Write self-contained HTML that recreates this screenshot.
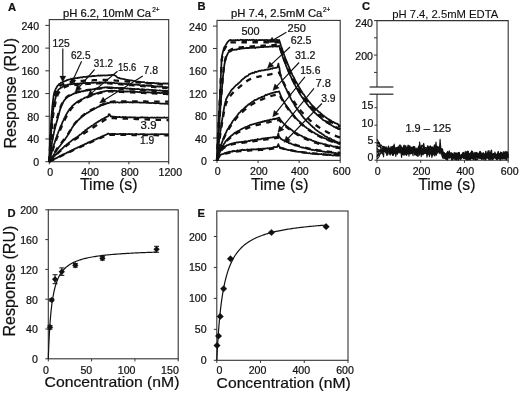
<!DOCTYPE html>
<html><head><meta charset="utf-8"><style>
html,body{margin:0;padding:0;background:#fff;}
body{width:520px;height:395px;overflow:hidden;}
svg{display:block;will-change:transform;}
</style></head><body>
<svg width="520" height="395" viewBox="0 0 520 395">
<rect width="520" height="395" fill="#fff"/>
<g font-family='"Liberation Sans", sans-serif' fill="#111" stroke="#111" stroke-width="0.22">
<text x="7.9" y="10.6" font-size="11.2" font-weight="bold">A</text>
<text x="197.4" y="10.4" font-size="11.2" font-weight="bold">B</text>
<text x="362" y="10.4" font-size="11.2" font-weight="bold">C</text>
<text x="7.4" y="216.6" font-size="11.2" font-weight="bold">D</text>
<text x="197.4" y="216.8" font-size="11.2" font-weight="bold">E</text>
<text x="63" y="16.9" font-size="10.4" textLength="88" lengthAdjust="spacingAndGlyphs">pH 6.2, 10mM Ca</text>
<text x="152.2" y="12" font-size="7.0" textLength="7.4" lengthAdjust="spacingAndGlyphs">2+</text>
<text x="230.9" y="16.9" font-size="10.4" textLength="91.4" lengthAdjust="spacingAndGlyphs">pH 7.4, 2.5mM Ca</text>
<text x="323" y="12" font-size="7.0" textLength="7.2" lengthAdjust="spacingAndGlyphs">2+</text>
<text x="392.2" y="17.5" font-size="10.6" textLength="106.1" lengthAdjust="spacingAndGlyphs" stroke-width="0.1">pH 7.4, 2.5mM EDTA</text>
<text transform="translate(15.9,148.6) rotate(-90)" font-size="16.2" textLength="110.7" lengthAdjust="spacingAndGlyphs">Response (RU)</text>
<text transform="translate(14.9,336.6) rotate(-90)" font-size="16.2" textLength="111" lengthAdjust="spacingAndGlyphs">Response (RU)</text>
<text x="80" y="190.4" font-size="16.4" textLength="57.6" lengthAdjust="spacingAndGlyphs">Time (s)</text>
<text x="251" y="190.2" font-size="16.4" textLength="57.4" lengthAdjust="spacingAndGlyphs">Time (s)</text>
<text x="418.2" y="189.9" font-size="16.4" textLength="57.2" lengthAdjust="spacingAndGlyphs">Time (s)</text>
<text x="44.6" y="387" font-size="14.8" textLength="134.8" lengthAdjust="spacingAndGlyphs">Concentration (nM)</text>
<text x="216.6" y="388.4" font-size="14.8" textLength="134.2" lengthAdjust="spacingAndGlyphs">Concentration (nM)</text>
<rect x="49.3" y="19.6" width="119.4" height="142.1" fill="none" stroke="#333" stroke-width="1.1"/>
<line x1="45.3" y1="161.7" x2="49.3" y2="161.7" stroke="#333" stroke-width="1"/>
<text x="39.1" y="166.2" font-size="10.6" text-anchor="end">0</text>
<line x1="45.3" y1="138.98" x2="49.3" y2="138.98" stroke="#333" stroke-width="1"/>
<text x="39.1" y="143.48" font-size="10.6" text-anchor="end">40</text>
<line x1="45.3" y1="116.27" x2="49.3" y2="116.27" stroke="#333" stroke-width="1"/>
<text x="39.1" y="120.77" font-size="10.6" text-anchor="end">80</text>
<line x1="45.3" y1="93.55" x2="49.3" y2="93.55" stroke="#333" stroke-width="1"/>
<text x="39.1" y="98.05" font-size="10.6" text-anchor="end">120</text>
<line x1="45.3" y1="70.83" x2="49.3" y2="70.83" stroke="#333" stroke-width="1"/>
<text x="39.1" y="75.33" font-size="10.6" text-anchor="end">160</text>
<line x1="45.3" y1="48.12" x2="49.3" y2="48.12" stroke="#333" stroke-width="1"/>
<text x="39.1" y="52.62" font-size="10.6" text-anchor="end">200</text>
<line x1="45.3" y1="25.4" x2="49.3" y2="25.4" stroke="#333" stroke-width="1"/>
<text x="39.1" y="29.9" font-size="10.6" text-anchor="end">240</text>
<line x1="49.3" y1="161.7" x2="49.3" y2="164.3" stroke="#333" stroke-width="1"/>
<text x="50.3" y="175.9" font-size="10.6" text-anchor="middle">0</text>
<line x1="89.1" y1="161.7" x2="89.1" y2="164.3" stroke="#333" stroke-width="1"/>
<text x="90.1" y="175.9" font-size="10.6" text-anchor="middle">400</text>
<line x1="128.9" y1="161.7" x2="128.9" y2="164.3" stroke="#333" stroke-width="1"/>
<text x="129.9" y="175.9" font-size="10.6" text-anchor="middle">800</text>
<line x1="168.7" y1="161.7" x2="168.7" y2="164.3" stroke="#333" stroke-width="1"/>
<text x="170.3" y="175.9" font-size="10.6" text-anchor="middle">1200</text>
<rect x="217" y="20.4" width="123.2" height="140" fill="none" stroke="#333" stroke-width="1.1"/>
<line x1="213" y1="160.4" x2="217" y2="160.4" stroke="#333" stroke-width="1"/>
<text x="206.8" y="164.9" font-size="10.6" text-anchor="end">0</text>
<line x1="213" y1="138.02" x2="217" y2="138.02" stroke="#333" stroke-width="1"/>
<text x="206.8" y="142.52" font-size="10.6" text-anchor="end">40</text>
<line x1="213" y1="115.63" x2="217" y2="115.63" stroke="#333" stroke-width="1"/>
<text x="206.8" y="120.13" font-size="10.6" text-anchor="end">80</text>
<line x1="213" y1="93.25" x2="217" y2="93.25" stroke="#333" stroke-width="1"/>
<text x="206.8" y="97.75" font-size="10.6" text-anchor="end">120</text>
<line x1="213" y1="70.87" x2="217" y2="70.87" stroke="#333" stroke-width="1"/>
<text x="206.8" y="75.37" font-size="10.6" text-anchor="end">160</text>
<line x1="213" y1="48.48" x2="217" y2="48.48" stroke="#333" stroke-width="1"/>
<text x="206.8" y="52.98" font-size="10.6" text-anchor="end">200</text>
<line x1="213" y1="26.1" x2="217" y2="26.1" stroke="#333" stroke-width="1"/>
<text x="206.8" y="30.6" font-size="10.6" text-anchor="end">240</text>
<line x1="217" y1="160.4" x2="217" y2="163" stroke="#333" stroke-width="1"/>
<text x="217.8" y="174.6" font-size="10.6" text-anchor="middle">0</text>
<line x1="258.07" y1="160.4" x2="258.07" y2="163" stroke="#333" stroke-width="1"/>
<text x="258.87" y="174.6" font-size="10.6" text-anchor="middle">200</text>
<line x1="299.13" y1="160.4" x2="299.13" y2="163" stroke="#333" stroke-width="1"/>
<text x="299.93" y="174.6" font-size="10.6" text-anchor="middle">400</text>
<line x1="340.2" y1="160.4" x2="340.2" y2="163" stroke="#333" stroke-width="1"/>
<text x="341.7" y="174.6" font-size="10.6" text-anchor="middle">600</text>
<polyline points="377,87 377,20.6 508.2,20.6 508.2,160.2 377,160.2 377,94.2" fill="none" stroke="#333" stroke-width="1.1"/>
<line x1="369.6" y1="87" x2="393.4" y2="87" stroke="#222" stroke-width="1.2"/>
<line x1="369.6" y1="94.2" x2="393.4" y2="94.2" stroke="#222" stroke-width="1.2"/>
<line x1="374" y1="20.6" x2="377" y2="20.6" stroke="#333" stroke-width="1"/>
<text x="373" y="27.4" font-size="10.6" text-anchor="end">240</text>
<line x1="374" y1="37.8" x2="377" y2="37.8" stroke="#333" stroke-width="1"/>
<line x1="374" y1="55.1" x2="377" y2="55.1" stroke="#333" stroke-width="1"/>
<text x="373" y="60.1" font-size="10.6" text-anchor="end">200</text>
<line x1="374" y1="72.4" x2="377" y2="72.4" stroke="#333" stroke-width="1"/>
<line x1="374.5" y1="160.2" x2="377" y2="160.2" stroke="#333" stroke-width="1"/>
<text x="373.4" y="160.8" font-size="10.6" text-anchor="end">0</text>
<line x1="374.5" y1="142.7" x2="377" y2="142.7" stroke="#333" stroke-width="1"/>
<text x="373.4" y="144.2" font-size="10.6" text-anchor="end">5</text>
<line x1="374.5" y1="125.2" x2="377" y2="125.2" stroke="#333" stroke-width="1"/>
<text x="373.4" y="126.7" font-size="10.6" text-anchor="end">10</text>
<line x1="374.5" y1="107.7" x2="377" y2="107.7" stroke="#333" stroke-width="1"/>
<text x="373.4" y="109.2" font-size="10.6" text-anchor="end">15</text>
<line x1="377" y1="160.2" x2="377" y2="162.8" stroke="#333" stroke-width="1"/>
<text x="377.8" y="174.6" font-size="10.6" text-anchor="middle">0</text>
<line x1="420.73" y1="160.2" x2="420.73" y2="162.8" stroke="#333" stroke-width="1"/>
<text x="421.53" y="174.6" font-size="10.6" text-anchor="middle">200</text>
<line x1="464.47" y1="160.2" x2="464.47" y2="162.8" stroke="#333" stroke-width="1"/>
<text x="465.27" y="174.6" font-size="10.6" text-anchor="middle">400</text>
<line x1="508.2" y1="160.2" x2="508.2" y2="162.8" stroke="#333" stroke-width="1"/>
<text x="509.7" y="174.6" font-size="10.6" text-anchor="middle">600</text>
<rect x="48.3" y="209.8" width="129.9" height="149" fill="none" stroke="#333" stroke-width="1.1"/>
<line x1="45.3" y1="358.8" x2="48.3" y2="358.8" stroke="#333" stroke-width="1"/>
<text x="37.9" y="363.1" font-size="10.6" text-anchor="end">0</text>
<line x1="45.3" y1="329" x2="48.3" y2="329" stroke="#333" stroke-width="1"/>
<text x="37.9" y="333.3" font-size="10.6" text-anchor="end">40</text>
<line x1="45.3" y1="299.2" x2="48.3" y2="299.2" stroke="#333" stroke-width="1"/>
<text x="37.9" y="303.5" font-size="10.6" text-anchor="end">80</text>
<line x1="45.3" y1="269.4" x2="48.3" y2="269.4" stroke="#333" stroke-width="1"/>
<text x="37.9" y="273.7" font-size="10.6" text-anchor="end">120</text>
<line x1="45.3" y1="239.6" x2="48.3" y2="239.6" stroke="#333" stroke-width="1"/>
<text x="37.9" y="243.9" font-size="10.6" text-anchor="end">160</text>
<line x1="45.3" y1="209.8" x2="48.3" y2="209.8" stroke="#333" stroke-width="1"/>
<text x="37.9" y="214.1" font-size="10.6" text-anchor="end">200</text>
<line x1="48.3" y1="358.8" x2="48.3" y2="361.4" stroke="#333" stroke-width="1"/>
<text x="48.9" y="373.6" font-size="10.6" text-anchor="end">0</text>
<line x1="91.6" y1="358.8" x2="91.6" y2="361.4" stroke="#333" stroke-width="1"/>
<text x="92.2" y="373.6" font-size="10.6" text-anchor="end">50</text>
<line x1="134.9" y1="358.8" x2="134.9" y2="361.4" stroke="#333" stroke-width="1"/>
<text x="135.5" y="373.6" font-size="10.6" text-anchor="end">100</text>
<line x1="178.2" y1="358.8" x2="178.2" y2="361.4" stroke="#333" stroke-width="1"/>
<text x="178.8" y="373.6" font-size="10.6" text-anchor="end">150</text>
<rect x="216.8" y="211" width="131.2" height="149.3" fill="none" stroke="#333" stroke-width="1.1"/>
<line x1="213.8" y1="360.3" x2="216.8" y2="360.3" stroke="#333" stroke-width="1"/>
<text x="206.6" y="364.3" font-size="10.6" text-anchor="end">0</text>
<line x1="213.8" y1="329.35" x2="216.8" y2="329.35" stroke="#333" stroke-width="1"/>
<text x="206.6" y="333.35" font-size="10.6" text-anchor="end">50</text>
<line x1="213.8" y1="298.4" x2="216.8" y2="298.4" stroke="#333" stroke-width="1"/>
<text x="206.6" y="302.4" font-size="10.6" text-anchor="end">100</text>
<line x1="213.8" y1="267.45" x2="216.8" y2="267.45" stroke="#333" stroke-width="1"/>
<text x="206.6" y="271.45" font-size="10.6" text-anchor="end">150</text>
<line x1="213.8" y1="236.5" x2="216.8" y2="236.5" stroke="#333" stroke-width="1"/>
<text x="206.6" y="240.5" font-size="10.6" text-anchor="end">200</text>
<line x1="216.8" y1="360.3" x2="216.8" y2="362.9" stroke="#333" stroke-width="1"/>
<text x="219.5" y="374.2" font-size="10.6" text-anchor="middle">0</text>
<line x1="260.53" y1="360.3" x2="260.53" y2="362.9" stroke="#333" stroke-width="1"/>
<text x="257.53" y="374.2" font-size="10.6" text-anchor="middle">200</text>
<line x1="304.27" y1="360.3" x2="304.27" y2="362.9" stroke="#333" stroke-width="1"/>
<text x="301.27" y="374.2" font-size="10.6" text-anchor="middle">400</text>
<line x1="348" y1="360.3" x2="348" y2="362.9" stroke="#333" stroke-width="1"/>
<text x="345" y="374.2" font-size="10.6" text-anchor="middle">600</text>
<polyline points="49.3,161.7 50.04,161.33 50.79,160.97 51.53,160.61 52.27,160.24 53.02,159.88 53.76,159.52 54.5,159.15 55.24,158.79 55.99,158.43 56.73,158.07 57.47,157.71 58.22,157.35 58.96,157 59.7,156.64 60.45,156.28 61.19,155.92 61.93,155.57 62.68,155.21 63.42,154.86 64.16,154.51 64.91,154.15 65.65,153.8 66.39,153.45 67.13,153.1 67.88,152.74 68.62,152.39 69.36,152.05 70.11,151.7 70.85,151.35 71.59,151 72.34,150.65 73.08,150.31 73.82,149.96 74.57,149.62 75.31,149.27 76.05,148.93 76.79,148.59 77.54,148.24 78.28,147.9 79.02,147.56 79.77,147.22 80.51,146.88 81.25,146.54 82,146.2 82.74,145.86 83.48,145.53 84.23,145.19 84.97,144.85 85.71,144.52 86.46,144.18 87.2,143.85 87.94,143.51 88.68,143.18 89.43,142.85 90.17,142.51 90.91,142.18 91.66,141.85 92.4,141.52 93.14,141.19 93.89,140.86 94.63,140.53 95.37,140.2 96.12,139.88 96.86,139.55 97.6,139.22 98.34,138.9 99.09,138.57 99.83,138.25 100.57,137.93 101.32,137.6 102.06,137.28 102.8,136.96 103.55,136.64 104.29,136.32 105.03,136 105.78,135.68 106.52,135.36 107.26,135.04 108,134.72 108,134.72 109.56,134.74 111.12,134.76 112.67,134.77 114.23,134.79 115.79,134.8 117.34,134.82 118.9,134.84 120.46,134.85 122.01,134.87 123.57,134.88 125.12,134.9 126.68,134.92 128.24,134.93 129.79,134.95 131.35,134.96 132.91,134.98 134.46,135 136.02,135.01 137.57,135.03 139.13,135.04 140.69,135.06 142.24,135.08 143.8,135.09 145.36,135.11 146.91,135.12 148.47,135.14 150.02,135.16 151.58,135.17 153.14,135.19 154.69,135.2 156.25,135.22 157.81,135.24 159.36,135.25 160.92,135.27 162.47,135.28 164.03,135.3 165.59,135.32 167.14,135.33 168.7,135.35" fill="none" stroke="#111" stroke-width="2.3" stroke-linejoin="round" stroke-dasharray="5.5 5.5"/>
<polyline points="49.3,161.41 49.84,161.78 50.38,161.08 50.92,160.94 51.45,160.64 51.99,160.33 52.53,160.31 53.07,159.77 53.61,159.59 54.15,158.71 54.69,158.88 55.22,158.68 55.76,158.4 56.3,158.18 56.84,157.96 57.38,157.59 57.92,157.19 58.46,157.02 58.99,156.57 59.53,156.47 60.07,156.16 60.61,155.67 61.15,155.55 61.69,155.42 62.23,155.11 62.76,154.73 63.3,154.27 63.84,154.31 64.38,154.04 64.92,153.59 65.46,153.6 66,153.24 66.53,152.81 67.07,152.59 67.61,152.39 68.15,152.05 68.69,152.28 69.23,151.47 69.77,151.48 70.3,151.32 70.84,150.78 71.38,150.46 71.92,150.36 72.46,150.19 73,149.77 73.54,149.53 74.07,149.06 74.61,148.89 75.15,148.71 75.69,148.33 76.23,148.26 76.77,148.1 77.31,147.63 77.84,147.38 78.38,147.23 78.92,147.06 79.46,146.66 80,146.79 80.54,146.09 81.08,145.86 81.61,145.91 82.15,145.42 82.69,145.31 83.23,144.82 83.77,144.96 84.31,144.55 84.85,144.07 85.38,143.76 85.92,143.98 86.46,143.5 87,143.13 87.54,143.02 88.08,142.46 88.62,142.61 89.15,142.14 89.69,142.1 90.23,141.5 90.77,141.46 91.31,141.27 91.85,141.21 92.39,140.49 92.92,140.38 93.46,140.13 94,139.84 94.54,139.71 95.08,139.61 95.62,139.39 96.16,139.15 96.69,138.6 97.23,138.76 97.77,138.4 98.31,138.12 98.85,137.81 99.39,137.52 99.93,137.54 100.46,137.38 101,136.89 101.54,136.49 102.08,136.32 102.62,136.16 103.16,136 103.7,135.68 104.23,135.52 104.77,135.14 105.31,135.14 105.85,134.77 106.39,134.58 106.93,134.25 107.47,134.07 108,133.51 108,133.66 108.88,133.68 109.76,134.2 110.64,133.98 111.52,134.03 112.4,133.89 113.28,134.3 114.16,133.82 115.04,133.85 115.92,134.19 116.8,134.15 117.68,134.14 118.56,134.03 119.44,133.95 120.32,133.76 121.2,134.09 122.08,133.96 122.96,134.06 123.84,133.84 124.72,133.99 125.6,133.91 126.48,134.26 127.36,134.15 128.24,134.24 129.12,133.92 130,134.05 130.88,134.19 131.76,134.22 132.63,134.1 133.51,134.27 134.39,134.31 135.27,134.12 136.15,133.84 137.03,134.23 137.91,134.29 138.79,134.38 139.67,134.41 140.55,134.15 141.43,134.11 142.31,134.24 143.19,134.2 144.07,134.23 144.95,134.23 145.83,134.47 146.71,134.33 147.59,134.25 148.47,134.38 149.35,134.34 150.23,134.4 151.11,134.33 151.99,134.17 152.87,134.35 153.75,134.32 154.63,134.18 155.51,134.21 156.39,134.07 157.26,134.61 158.14,134.19 159.02,134.38 159.9,134.3 160.78,134.2 161.66,134.17 162.54,134.17 163.42,134.3 164.3,134.1 165.18,134.36 166.06,134.35 166.94,134.21 167.82,134.4 168.7,134.02" fill="none" stroke="#111" stroke-width="1.75" stroke-linejoin="round"/>
<polyline points="49.3,161.7 50.04,160.92 50.79,160.14 51.53,159.38 52.27,158.62 53.02,157.87 53.76,157.13 54.5,156.4 55.24,155.68 55.99,154.96 56.73,154.26 57.47,153.56 58.22,152.87 58.96,152.19 59.7,151.51 60.45,150.85 61.19,150.19 61.93,149.54 62.68,148.9 63.42,148.26 64.16,147.63 64.91,147.01 65.65,146.4 66.39,145.8 67.13,145.2 67.88,144.61 68.62,144.02 69.36,143.44 70.11,142.87 70.85,142.32 71.59,141.78 72.34,141.25 73.08,140.73 73.82,140.23 74.57,139.73 75.31,139.24 76.05,138.75 76.79,138.26 77.54,137.78 78.28,137.29 79.02,136.8 79.77,136.3 80.51,135.8 81.25,135.31 82,134.81 82.74,134.32 83.48,133.82 84.23,133.33 84.97,132.84 85.71,132.35 86.46,131.86 87.2,131.36 87.94,130.87 88.68,130.39 89.43,129.9 90.17,129.41 90.91,128.92 91.66,128.44 92.4,127.95 93.14,127.47 93.89,126.98 94.63,126.5 95.37,126.02 96.12,125.54 96.86,125.06 97.6,124.58 98.34,124.1 99.09,123.62 99.83,123.14 100.57,122.67 101.32,122.19 102.06,121.72 102.8,121.25 103.55,120.78 104.29,120.31 105.03,119.84 105.78,119.37 106.52,118.9 107.26,118.44 108,117.97 108,117.97 109.56,118.03 111.12,118.09 112.67,118.15 114.23,118.2 115.79,118.26 117.34,118.32 118.9,118.38 120.46,118.44 122.01,118.49 123.57,118.55 125.12,118.61 126.68,118.67 128.24,118.73 129.79,118.79 131.35,118.84 132.91,118.9 134.46,118.96 136.02,119.02 137.57,119.08 139.13,119.14 140.69,119.19 142.24,119.25 143.8,119.31 145.36,119.37 146.91,119.43 148.47,119.48 150.02,119.54 151.58,119.6 153.14,119.66 154.69,119.72 156.25,119.78 157.81,119.83 159.36,119.89 160.92,119.95 162.47,120.01 164.03,120.07 165.59,120.13 167.14,120.18 168.7,120.24" fill="none" stroke="#111" stroke-width="2.3" stroke-linejoin="round" stroke-dasharray="5.5 5.5"/>
<polyline points="49.3,161.56 49.84,160.78 50.38,160.48 50.92,159.93 51.45,159.26 51.99,158.58 52.53,158.19 53.07,157.47 53.61,156.95 54.15,156.15 54.69,155.91 55.22,155.1 55.76,154.79 56.3,154.28 56.84,153.71 57.38,153.23 57.92,152.51 58.46,151.86 58.99,151.46 59.53,150.87 60.07,150.21 60.61,149.9 61.15,149.41 61.69,148.97 62.23,148.67 62.76,147.84 63.3,147.71 63.84,146.89 64.38,146.51 64.92,145.88 65.46,145.58 66,145.23 66.53,144.6 67.07,144.28 67.61,143.78 68.15,143.3 68.69,142.89 69.23,142.46 69.77,142.12 70.3,141.61 70.84,141.47 71.38,140.79 71.92,140.55 72.46,139.84 73,139.45 73.54,139.54 74.07,138.89 74.61,138.57 75.15,138.34 75.69,137.76 76.23,137.54 76.77,137.37 77.31,136.78 77.84,136.39 78.38,135.97 78.92,135.77 79.46,135.11 80,134.68 80.54,134.52 81.08,134.02 81.61,133.5 82.15,133.13 82.69,132.36 83.23,132.14 83.77,131.87 84.31,131.4 84.85,130.86 85.38,130.1 85.92,130.03 86.46,129.58 87,129.12 87.54,128.81 88.08,128.11 88.62,128.13 89.15,127.58 89.69,127.29 90.23,126.85 90.77,126.74 91.31,125.96 91.85,125.86 92.39,125.48 92.92,125.25 93.46,124.87 94,124.33 94.54,123.92 95.08,123.6 95.62,123.19 96.16,122.91 96.69,122.67 97.23,122.21 97.77,121.91 98.31,121.68 98.85,121.23 99.39,120.82 99.93,120.65 100.46,120.41 101,119.94 101.54,119.46 102.08,119.45 102.62,119.13 103.16,118.83 103.7,118.34 104.23,118.48 104.77,117.88 105.31,117.47 105.85,117.47 106.39,116.87 106.93,116.73 107.47,116.61 108,116.24 108,116.48 108.88,114.12 109.76,114.57 110.64,116.46 111.52,116.32 112.4,116.64 113.28,116.53 114.16,116.71 115.04,117.08 115.92,116.88 116.8,116.82 117.68,117.05 118.56,117.11 119.44,116.91 120.32,117.09 121.2,117.27 122.08,117.16 122.96,116.97 123.84,117.19 124.72,117.02 125.6,116.97 126.48,117.21 127.36,117.4 128.24,117.45 129.12,117.29 130,117.19 130.88,117.3 131.76,117.28 132.63,117.44 133.51,117.36 134.39,117.49 135.27,117.48 136.15,117.64 137.03,117.69 137.91,117.56 138.79,117.66 139.67,117.65 140.55,117.43 141.43,117.56 142.31,117.14 143.19,117.43 144.07,117.67 144.95,117.48 145.83,117.55 146.71,117.7 147.59,117.46 148.47,117.73 149.35,118.06 150.23,117.52 151.11,117.73 151.99,117.44 152.87,117.74 153.75,117.82 154.63,117.44 155.51,117.82 156.39,117.64 157.26,117.47 158.14,117.66 159.02,117.69 159.9,117.66 160.78,117.56 161.66,117.8 162.54,117.6 163.42,117.6 164.3,117.35 165.18,117.73 166.06,117.82 166.94,117.58 167.82,117.74 168.7,117.65" fill="none" stroke="#111" stroke-width="1.75" stroke-linejoin="round"/>
<polyline points="49.3,161.7 50.04,160.34 50.79,159.01 51.53,157.69 52.27,156.41 53.02,155.14 53.76,153.9 54.5,152.68 55.24,151.49 55.99,150.33 56.73,149.19 57.47,148.07 58.22,146.99 58.96,145.94 59.7,144.95 60.45,143.99 61.19,143.06 61.93,142.14 62.68,141.24 63.42,140.33 64.16,139.41 64.91,138.46 65.65,137.49 66.39,136.46 67.13,135.38 67.88,134.24 68.62,133.06 69.36,131.86 70.11,130.64 70.85,129.42 71.59,128.21 72.34,127.04 73.08,125.91 73.82,124.83 74.57,123.83 75.31,122.92 76.05,122.05 76.79,121.22 77.54,120.42 78.28,119.65 79.02,118.91 79.77,118.19 80.51,117.51 81.25,116.85 82,116.22 82.74,115.61 83.48,115.03 84.23,114.46 84.97,113.91 85.71,113.37 86.46,112.86 87.2,112.36 87.94,111.88 88.68,111.41 89.43,110.96 90.17,110.53 90.91,110.12 91.66,109.71 92.4,109.32 93.14,108.92 93.89,108.53 94.63,108.15 95.37,107.77 96.12,107.4 96.86,107.03 97.6,106.68 98.34,106.33 99.09,105.98 99.83,105.65 100.57,105.32 101.32,105 102.06,104.7 102.8,104.4 103.55,104.11 104.29,103.84 105.03,103.57 105.78,103.32 106.52,103.08 107.26,102.85 108,102.64 108,102.64 109.56,102.27 111.12,101.88 112.67,101.59 114.23,101.5 115.79,101.5 117.34,101.5 118.9,101.5 120.46,101.5 122.01,101.5 123.57,101.5 125.12,101.5 126.68,101.5 128.24,101.5 129.79,101.5 131.35,101.5 132.91,101.51 134.46,101.51 136.02,101.51 137.57,101.51 139.13,101.51 140.69,101.51 142.24,101.52 143.8,101.52 145.36,101.52 146.91,101.53 148.47,101.53 150.02,101.53 151.58,101.54 153.14,101.54 154.69,101.55 156.25,101.55 157.81,101.56 159.36,101.57 160.92,101.57 162.47,101.58 164.03,101.59 165.59,101.6 167.14,101.6 168.7,101.61" fill="none" stroke="#111" stroke-width="2.3" stroke-linejoin="round" stroke-dasharray="5.5 5.5"/>
<polyline points="49.3,161.68 49.84,160.66 50.38,160.04 50.92,159.1 51.45,158.59 51.99,157.51 52.53,156.32 53.07,155.81 53.61,154.98 54.15,154.24 54.69,153.17 55.22,152.42 55.76,151.82 56.3,150.77 56.84,150.05 57.38,149.2 57.92,148.64 58.46,147.54 58.99,146.99 59.53,146.35 60.07,145.7 60.61,144.97 61.15,144.13 61.69,143.61 62.23,142.74 62.76,142.13 63.3,141.33 63.84,140.71 64.38,140.12 64.92,139.66 65.46,138.6 66,137.76 66.53,137.04 67.07,136.14 67.61,135.42 68.15,134.52 68.69,133.7 69.23,132.46 69.77,131.72 70.3,130.9 70.84,130.11 71.38,129.05 71.92,127.95 72.46,127.23 73,126.57 73.54,125.47 74.07,124.72 74.61,124.07 75.15,123.44 75.69,122.76 76.23,122.24 76.77,121.61 77.31,121.26 77.84,120.37 78.38,120.01 78.92,119.23 79.46,119.3 80,118.41 80.54,117.89 81.08,117.61 81.61,117.04 82.15,116.55 82.69,116.14 83.23,115.87 83.77,115.41 84.31,114.84 84.85,114.41 85.38,114.2 85.92,113.83 86.46,113.45 87,112.98 87.54,112.93 88.08,112.63 88.62,112.09 89.15,111.93 89.69,111.54 90.23,111.12 90.77,110.75 91.31,110.66 91.85,110.08 92.39,110.14 92.92,109.51 93.46,109.51 94,109.17 94.54,108.61 95.08,108.47 95.62,108.24 96.16,107.92 96.69,107.52 97.23,107.33 97.77,107.07 98.31,106.66 98.85,106.67 99.39,106.39 99.93,106.17 100.46,105.7 101,105.51 101.54,105.25 102.08,105.22 102.62,105.03 103.16,104.69 103.7,104.66 104.23,104.3 104.77,104.12 105.31,104.14 105.85,103.87 106.39,103.71 106.93,103.28 107.47,102.99 108,103.22 108,103.2 108.88,103.05 109.76,102.34 110.64,102.35 111.52,102.51 112.4,102.24 113.28,102.58 114.16,102.38 115.04,102.33 115.92,102.53 116.8,102.23 117.68,102.21 118.56,102.55 119.44,102.56 120.32,102.28 121.2,102.37 122.08,102.54 122.96,102.41 123.84,102.39 124.72,102.4 125.6,102.27 126.48,102.34 127.36,102.15 128.24,102.21 129.12,102.32 130,102.27 130.88,102.24 131.76,102.34 132.63,102.62 133.51,102.34 134.39,102.46 135.27,102.26 136.15,102.49 137.03,102.44 137.91,102.49 138.79,102.32 139.67,102.55 140.55,102.63 141.43,102.57 142.31,102.7 143.19,102.64 144.07,102.69 144.95,102.67 145.83,102.47 146.71,102.83 147.59,102.79 148.47,102.86 149.35,102.77 150.23,103.07 151.11,103.04 151.99,102.98 152.87,102.94 153.75,103.06 154.63,103.17 155.51,103.27 156.39,103.12 157.26,103.04 158.14,103.25 159.02,103.32 159.9,103.34 160.78,103.59 161.66,103.56 162.54,103.61 163.42,103.6 164.3,103.71 165.18,103.94 166.06,103.68 166.94,103.67 167.82,104.02 168.7,104" fill="none" stroke="#111" stroke-width="1.75" stroke-linejoin="round"/>
<polyline points="49.3,161.7 50.04,159.04 50.79,156.45 51.53,153.93 52.27,151.49 53.02,149.13 53.76,146.83 54.5,144.61 55.24,142.46 55.99,140.4 56.73,138.43 57.47,136.54 58.22,134.69 58.96,132.87 59.7,131.07 60.45,129.28 61.19,127.52 61.93,125.81 62.68,124.14 63.42,122.54 64.16,120.96 64.91,119.39 65.65,117.86 66.39,116.37 67.13,114.95 67.88,113.63 68.62,112.42 69.36,111.31 70.11,110.26 70.85,109.28 71.59,108.36 72.34,107.51 73.08,106.71 73.82,105.97 74.57,105.27 75.31,104.6 76.05,103.96 76.79,103.35 77.54,102.78 78.28,102.23 79.02,101.72 79.77,101.23 80.51,100.77 81.25,100.33 82,99.91 82.74,99.51 83.48,99.13 84.23,98.76 84.97,98.4 85.71,98.05 86.46,97.71 87.2,97.37 87.94,97.04 88.68,96.71 89.43,96.4 90.17,96.09 90.91,95.8 91.66,95.52 92.4,95.24 93.14,94.99 93.89,94.75 94.63,94.51 95.37,94.29 96.12,94.06 96.86,93.84 97.6,93.63 98.34,93.41 99.09,93.21 99.83,93.01 100.57,92.81 101.32,92.62 102.06,92.44 102.8,92.27 103.55,92.1 104.29,91.94 105.03,91.79 105.78,91.65 106.52,91.52 107.26,91.39 108,91.28 108,91.28 109.56,91.35 111.12,91.42 112.67,91.5 114.23,91.57 115.79,91.64 117.34,91.72 118.9,91.79 120.46,91.86 122.01,91.93 123.57,92.01 125.12,92.08 126.68,92.15 128.24,92.22 129.79,92.3 131.35,92.37 132.91,92.44 134.46,92.52 136.02,92.59 137.57,92.66 139.13,92.73 140.69,92.81 142.24,92.88 143.8,92.95 145.36,93.03 146.91,93.1 148.47,93.17 150.02,93.24 151.58,93.32 153.14,93.39 154.69,93.46 156.25,93.54 157.81,93.61 159.36,93.68 160.92,93.75 162.47,93.83 164.03,93.9 165.59,93.97 167.14,94.05 168.7,94.12" fill="none" stroke="#111" stroke-width="2.3" stroke-linejoin="round" stroke-dasharray="5.5 5.5"/>
<polyline points="49.3,161.66 49.84,159.46 50.38,157.69 50.92,155.21 51.45,153.52 51.99,151.33 52.53,149.6 53.07,147.81 53.61,145.97 54.15,144.07 54.69,142.61 55.22,140.88 55.76,139.28 56.3,137.91 56.84,135.98 57.38,134.62 57.92,133.29 58.46,131.73 58.99,130.67 59.53,129.2 60.07,127.62 60.61,126.42 61.15,125.6 61.69,124.51 62.23,122.97 62.76,121.49 63.3,120.57 63.84,119.43 64.38,118.22 64.92,117.35 65.46,116.14 66,115.03 66.53,114.08 67.07,113.14 67.61,112.37 68.15,111.34 68.69,110.67 69.23,109.66 69.77,108.74 70.3,108.5 70.84,108.03 71.38,107.14 71.92,106.42 72.46,105.75 73,105.21 73.54,104.98 74.07,104.5 74.61,103.75 75.15,103.64 75.69,102.91 76.23,102.69 76.77,102.15 77.31,101.79 77.84,101.42 78.38,101.07 78.92,100.99 79.46,100.48 80,100.22 80.54,99.88 81.08,99.47 81.61,99.41 82.15,99.22 82.69,98.97 83.23,98.66 83.77,98.26 84.31,98.24 84.85,97.72 85.38,97.6 85.92,97.44 86.46,97.35 87,96.89 87.54,96.58 88.08,96.69 88.62,96.04 89.15,95.74 89.69,95.7 90.23,95.45 90.77,94.96 91.31,94.92 91.85,95.01 92.39,94.69 92.92,94.52 93.46,94.34 94,94.48 94.54,93.87 95.08,93.9 95.62,93.62 96.16,93.5 96.69,93.2 97.23,93.21 97.77,93.12 98.31,92.78 98.85,92.51 99.39,92.6 99.93,92.22 100.46,92.24 101,92.21 101.54,91.78 102.08,91.99 102.62,91.6 103.16,91.69 103.7,91.44 104.23,91.56 104.77,91.39 105.31,91.02 105.85,91.04 106.39,90.96 106.93,90.94 107.47,90.73 108,90.91 108,90.87 108.88,90.77 109.76,90.9 110.64,90.92 111.52,90.87 112.4,90.92 113.28,90.96 114.16,90.73 115.04,90.86 115.92,90.87 116.8,91.08 117.68,91.19 118.56,91.36 119.44,91.24 120.32,91.53 121.2,91.35 122.08,91.19 122.96,91.11 123.84,91.24 124.72,91.54 125.6,91.38 126.48,91.6 127.36,91.41 128.24,91.58 129.12,91.48 130,91.27 130.88,91.54 131.76,91.38 132.63,91.72 133.51,91.83 134.39,91.63 135.27,91.61 136.15,91.97 137.03,91.92 137.91,92.17 138.79,92.04 139.67,91.92 140.55,92.09 141.43,92.2 142.31,92.35 143.19,92.14 144.07,92.12 144.95,92.18 145.83,92.27 146.71,92.52 147.59,92.13 148.47,92.42 149.35,92.47 150.23,92.38 151.11,92.83 151.99,92.57 152.87,92.62 153.75,92.58 154.63,92.48 155.51,92.64 156.39,93.01 157.26,92.83 158.14,92.79 159.02,92.84 159.9,93.08 160.78,93.17 161.66,92.89 162.54,92.96 163.42,93.05 164.3,93.33 165.18,92.87 166.06,93.57 166.94,93.24 167.82,92.93 168.7,93.29" fill="none" stroke="#111" stroke-width="1.75" stroke-linejoin="round"/>
<polyline points="49.3,161.7 50.04,155.43 50.79,149.51 51.53,144.02 52.27,139.05 53.02,134.69 53.76,130.96 54.5,127.65 55.24,124.64 55.99,121.88 56.73,119.27 57.47,116.76 58.22,114.25 58.96,111.74 59.7,109.34 60.45,107.17 61.19,105.37 61.93,103.81 62.68,102.36 63.42,101.04 64.16,99.87 64.91,98.87 65.65,98.06 66.39,97.39 67.13,96.79 67.88,96.25 68.62,95.76 69.36,95.32 70.11,94.91 70.85,94.53 71.59,94.16 72.34,93.82 73.08,93.48 73.82,93.17 74.57,92.88 75.31,92.6 76.05,92.35 76.79,92.11 77.54,91.9 78.28,91.71 79.02,91.53 79.77,91.37 80.51,91.21 81.25,91.06 82,90.92 82.74,90.79 83.48,90.67 84.23,90.55 84.97,90.43 85.71,90.32 86.46,90.21 87.2,90.11 87.94,90 88.68,89.89 89.43,89.78 90.17,89.68 90.91,89.58 91.66,89.47 92.4,89.37 93.14,89.28 93.89,89.18 94.63,89.09 95.37,88.99 96.12,88.9 96.86,88.82 97.6,88.73 98.34,88.65 99.09,88.57 99.83,88.49 100.57,88.42 101.32,88.35 102.06,88.28 102.8,88.22 103.55,88.15 104.29,88.1 105.03,88.04 105.78,87.99 106.52,87.95 107.26,87.91 108,87.87 108,87.87 109.56,87.97 111.12,88.07 112.67,88.18 114.23,88.28 115.79,88.38 117.34,88.48 118.9,88.58 120.46,88.69 122.01,88.79 123.57,88.89 125.12,88.99 126.68,89.09 128.24,89.2 129.79,89.3 131.35,89.4 132.91,89.5 134.46,89.6 136.02,89.71 137.57,89.81 139.13,89.91 140.69,90.01 142.24,90.11 143.8,90.22 145.36,90.32 146.91,90.42 148.47,90.52 150.02,90.62 151.58,90.72 153.14,90.83 154.69,90.93 156.25,91.03 157.81,91.13 159.36,91.23 160.92,91.34 162.47,91.44 164.03,91.54 165.59,91.64 167.14,91.74 168.7,91.85" fill="none" stroke="#111" stroke-width="2.3" stroke-linejoin="round" stroke-dasharray="5.5 5.5"/>
<polyline points="49.3,161.67 49.84,157.73 50.38,153.38 50.92,149.93 51.45,146.08 51.99,142.69 52.53,139.68 53.07,136.5 53.61,134.2 54.15,131.67 54.69,129.33 55.22,127.26 55.76,125.12 56.3,123.12 56.84,121.39 57.38,119.54 57.92,117.62 58.46,115.62 58.99,113.44 59.53,111.6 60.07,109.65 60.61,108.03 61.15,106.71 61.69,105.22 62.23,104.3 62.76,103.04 63.3,101.79 63.84,101.2 64.38,100.2 64.92,99.68 65.46,98.9 66,98.51 66.53,97.88 67.07,97.46 67.61,96.97 68.15,96.39 68.69,96.23 69.23,95.86 69.77,95.66 70.3,95.4 70.84,95.21 71.38,95.09 71.92,94.57 72.46,94.1 73,94.03 73.54,93.95 74.07,93.42 74.61,93.51 75.15,93.34 75.69,93.24 76.23,93.02 76.77,92.75 77.31,92.26 77.84,92.42 78.38,92.38 78.92,92.17 79.46,91.98 80,92.05 80.54,91.65 81.08,91.44 81.61,91.37 82.15,91.21 82.69,91.36 83.23,91.31 83.77,90.77 84.31,90.69 84.85,90.96 85.38,90.61 85.92,90.54 86.46,90.36 87,90.31 87.54,90.31 88.08,90.11 88.62,90.02 89.15,89.95 89.69,90.11 90.23,90.18 90.77,89.77 91.31,89.79 91.85,89.43 92.39,89.27 92.92,89.25 93.46,89.24 94,89.09 94.54,88.85 95.08,89.03 95.62,88.71 96.16,88.66 96.69,88.64 97.23,88.38 97.77,88.61 98.31,88.3 98.85,88.49 99.39,88.39 99.93,88.35 100.46,88.07 101,88.19 101.54,87.98 102.08,88.08 102.62,87.7 103.16,87.53 103.7,87.7 104.23,87.43 104.77,87.53 105.31,87.25 105.85,87.48 106.39,87.67 106.93,87.18 107.47,87.37 108,87.45 108,87.4 108.88,87.59 109.76,87.43 110.64,87.62 111.52,87.31 112.4,87.48 113.28,87.86 114.16,87.89 115.04,87.81 115.92,88.06 116.8,87.85 117.68,87.9 118.56,88.05 119.44,88.08 120.32,87.98 121.2,87.9 122.08,87.95 122.96,88.21 123.84,88.14 124.72,88.42 125.6,88.31 126.48,88.56 127.36,88.38 128.24,88.71 129.12,88.72 130,88.64 130.88,88.61 131.76,88.95 132.63,88.88 133.51,88.84 134.39,88.88 135.27,89.08 136.15,89 137.03,89.11 137.91,88.92 138.79,89.1 139.67,89.42 140.55,89.59 141.43,89.32 142.31,89.22 143.19,89.42 144.07,89.37 144.95,89.62 145.83,89.8 146.71,89.55 147.59,89.7 148.47,89.67 149.35,90.01 150.23,89.85 151.11,90.01 151.99,89.86 152.87,90.11 153.75,90.17 154.63,90.22 155.51,90.01 156.39,90.24 157.26,90.41 158.14,90.5 159.02,90.55 159.9,90.25 160.78,90.77 161.66,90.69 162.54,90.53 163.42,90.51 164.3,90.75 165.18,90.67 166.06,90.73 166.94,90.75 167.82,90.93 168.7,90.76" fill="none" stroke="#111" stroke-width="1.75" stroke-linejoin="round"/>
<polyline points="49.3,161.7 50.04,150.65 50.79,140.2 51.53,130.71 52.27,122.51 53.02,115.96 53.76,111.26 54.5,107.25 55.24,103.62 55.99,100.4 56.73,97.63 57.47,95.35 58.22,93.59 58.96,92.4 59.7,91.53 60.45,90.72 61.19,89.97 61.93,89.28 62.68,88.65 63.42,88.07 64.16,87.56 64.91,87.1 65.65,86.71 66.39,86.37 67.13,86.08 67.88,85.86 68.62,85.69 69.36,85.58 70.11,85.48 70.85,85.39 71.59,85.3 72.34,85.22 73.08,85.13 73.82,85.05 74.57,84.97 75.31,84.89 76.05,84.81 76.79,84.74 77.54,84.67 78.28,84.6 79.02,84.53 79.77,84.47 80.51,84.4 81.25,84.34 82,84.28 82.74,84.22 83.48,84.17 84.23,84.12 84.97,84.06 85.71,84.01 86.46,83.97 87.2,83.92 87.94,83.88 88.68,83.84 89.43,83.8 90.17,83.76 90.91,83.72 91.66,83.69 92.4,83.65 93.14,83.62 93.89,83.59 94.63,83.56 95.37,83.54 96.12,83.51 96.86,83.49 97.6,83.47 98.34,83.45 99.09,83.43 99.83,83.41 100.57,83.4 101.32,83.38 102.06,83.37 102.8,83.36 103.55,83.35 104.29,83.34 105.03,83.34 105.78,83.33 106.52,83.33 107.26,83.33 108,83.33 108,83.33 109.56,83.45 111.12,83.58 112.67,83.7 114.23,83.82 115.79,83.95 117.34,84.07 118.9,84.19 120.46,84.32 122.01,84.44 123.57,84.57 125.12,84.69 126.68,84.81 128.24,84.94 129.79,85.06 131.35,85.18 132.91,85.31 134.46,85.43 136.02,85.56 137.57,85.68 139.13,85.8 140.69,85.93 142.24,86.05 143.8,86.17 145.36,86.3 146.91,86.42 148.47,86.55 150.02,86.67 151.58,86.79 153.14,86.92 154.69,87.04 156.25,87.16 157.81,87.29 159.36,87.41 160.92,87.54 162.47,87.66 164.03,87.78 165.59,87.91 167.14,88.03 168.7,88.15" fill="none" stroke="#111" stroke-width="2.3" stroke-linejoin="round" stroke-dasharray="5.5 5.5"/>
<polyline points="49.3,161.67 49.84,152.44 50.38,144.07 50.92,135.5 51.45,128.18 51.99,121.38 52.53,115.26 53.07,110.76 53.61,107.19 54.15,104.57 54.69,101.54 55.22,99.33 55.76,97.29 56.3,95.13 56.84,93.3 57.38,92.07 57.92,90.69 58.46,89.57 58.99,89.12 59.53,88.78 60.07,88.42 60.61,87.84 61.15,87.75 61.69,87.61 62.23,86.93 62.76,86.68 63.3,85.99 63.84,85.95 64.38,85.87 64.92,85.67 65.46,85.23 66,85.24 66.53,85.05 67.07,84.84 67.61,84.69 68.15,84.59 68.69,84.5 69.23,84.27 69.77,84.15 70.3,84.57 70.84,83.91 71.38,84.2 71.92,83.99 72.46,84.22 73,84.02 73.54,83.98 74.07,83.94 74.61,83.79 75.15,83.77 75.69,83.95 76.23,83.78 76.77,83.62 77.31,83.58 77.84,83.68 78.38,83.63 78.92,83.56 79.46,83.66 80,83.64 80.54,83.2 81.08,83.44 81.61,83.33 82.15,83.41 82.69,83.09 83.23,82.99 83.77,83.23 84.31,83.09 84.85,83.24 85.38,82.85 85.92,82.94 86.46,83.16 87,82.83 87.54,82.93 88.08,82.9 88.62,82.88 89.15,83 89.69,82.95 90.23,82.76 90.77,82.83 91.31,82.94 91.85,82.49 92.39,82.79 92.92,82.82 93.46,82.82 94,82.6 94.54,82.55 95.08,82.63 95.62,82.53 96.16,82.85 96.69,82.67 97.23,82.67 97.77,82.59 98.31,82.51 98.85,82.85 99.39,82.11 99.93,82.67 100.46,82.48 101,82.41 101.54,82.39 102.08,82.47 102.62,82.91 103.16,82.65 103.7,82.38 104.23,82.62 104.77,82.63 105.31,82.81 105.85,82.3 106.39,82.4 106.93,82.6 107.47,82.49 108,82.48 108,82.63 108.88,82.58 109.76,82.57 110.64,82.6 111.52,82.57 112.4,82.82 113.28,82.96 114.16,82.9 115.04,83.12 115.92,83.28 116.8,83.01 117.68,83.3 118.56,83.3 119.44,83.29 120.32,83.61 121.2,83.43 122.08,83.53 122.96,83.68 123.84,83.68 124.72,83.91 125.6,84.19 126.48,83.98 127.36,84.14 128.24,83.96 129.12,84.11 130,84.3 130.88,84.29 131.76,84.17 132.63,84.27 133.51,84.45 134.39,84.51 135.27,84.68 136.15,84.73 137.03,84.7 137.91,84.87 138.79,84.88 139.67,85.15 140.55,85.3 141.43,85.37 142.31,85.26 143.19,85.08 144.07,85.17 144.95,85.55 145.83,85.7 146.71,85.44 147.59,85.56 148.47,85.89 149.35,85.61 150.23,85.81 151.11,85.71 151.99,85.92 152.87,85.91 153.75,86.07 154.63,86.32 155.51,86.28 156.39,86.42 157.26,86.27 158.14,86.6 159.02,86.75 159.9,86.5 160.78,86.51 161.66,86.54 162.54,86.66 163.42,87.1 164.3,87.05 165.18,87.1 166.06,87.09 166.94,87.47 167.82,87.23 168.7,87.26" fill="none" stroke="#111" stroke-width="1.75" stroke-linejoin="round"/>
<polyline points="49.3,161.7 50.04,145.76 50.79,132.03 51.53,121.86 52.27,113.23 53.02,105.69 53.76,99.78 54.5,96.05 55.24,93.93 55.99,92.07 56.73,90.44 57.47,89.04 58.22,87.85 58.96,86.87 59.7,86.08 60.45,85.48 61.19,85.05 61.93,84.73 62.68,84.43 63.42,84.14 64.16,83.87 64.91,83.62 65.65,83.38 66.39,83.15 67.13,82.94 67.88,82.75 68.62,82.56 69.36,82.39 70.11,82.23 70.85,82.08 71.59,81.95 72.34,81.82 73.08,81.7 73.82,81.6 74.57,81.5 75.31,81.41 76.05,81.33 76.79,81.25 77.54,81.18 78.28,81.12 79.02,81.06 79.77,81.01 80.51,80.96 81.25,80.91 82,80.86 82.74,80.81 83.48,80.77 84.23,80.72 84.97,80.67 85.71,80.63 86.46,80.59 87.2,80.54 87.94,80.5 88.68,80.46 89.43,80.42 90.17,80.39 90.91,80.35 91.66,80.32 92.4,80.28 93.14,80.25 93.89,80.22 94.63,80.19 95.37,80.16 96.12,80.14 96.86,80.11 97.6,80.09 98.34,80.06 99.09,80.04 99.83,80.02 100.57,80.01 101.32,79.99 102.06,79.98 102.8,79.96 103.55,79.95 104.29,79.94 105.03,79.93 105.78,79.93 106.52,79.92 107.26,79.92 108,79.92 108,79.92 109.56,80.05 111.12,80.18 112.67,80.31 114.23,80.44 115.79,80.58 117.34,80.71 118.9,80.84 120.46,80.97 122.01,81.1 123.57,81.23 125.12,81.36 126.68,81.49 128.24,81.62 129.79,81.75 131.35,81.89 132.91,82.02 134.46,82.15 136.02,82.28 137.57,82.41 139.13,82.54 140.69,82.67 142.24,82.8 143.8,82.93 145.36,83.07 146.91,83.2 148.47,83.33 150.02,83.46 151.58,83.59 153.14,83.72 154.69,83.85 156.25,83.98 157.81,84.11 159.36,84.24 160.92,84.38 162.47,84.51 164.03,84.64 165.59,84.77 167.14,84.9 168.7,85.03" fill="none" stroke="#111" stroke-width="2.3" stroke-linejoin="round" stroke-dasharray="5.5 5.5"/>
<polyline points="49.3,161.83 49.84,147.8 50.38,134.99 50.92,124.64 51.45,116.92 51.99,110.57 52.53,104.91 53.07,99.93 53.61,95.99 54.15,92.8 54.69,91.3 55.22,90.09 55.76,88.77 56.3,87.97 56.84,86.92 57.38,86.04 57.92,85.48 58.46,84.86 58.99,84.21 59.53,83.76 60.07,83.68 60.61,83.3 61.15,82.62 61.69,82.47 62.23,82.56 62.76,82.2 63.3,81.75 63.84,81.66 64.38,81.22 64.92,81.06 65.46,80.79 66,80.82 66.53,80.37 67.07,79.99 67.61,80.2 68.15,79.73 68.69,79.61 69.23,79.5 69.77,79.45 70.3,79.46 70.84,79.28 71.38,78.92 71.92,78.76 72.46,78.6 73,78.53 73.54,78.42 74.07,78.51 74.61,78.51 75.15,78.22 75.69,78.08 76.23,78.05 76.77,78.2 77.31,77.97 77.84,78.03 78.38,77.73 78.92,77.82 79.46,77.63 80,77.49 80.54,77.45 81.08,77.2 81.61,77.49 82.15,77.57 82.69,77.06 83.23,76.93 83.77,76.86 84.31,76.96 84.85,76.86 85.38,76.86 85.92,77 86.46,76.84 87,76.62 87.54,76.72 88.08,76.31 88.62,76.74 89.15,76.52 89.69,76.25 90.23,76.44 90.77,76.46 91.31,76.44 91.85,76.3 92.39,75.93 92.92,76.04 93.46,75.98 94,76.08 94.54,75.84 95.08,75.9 95.62,76.01 96.16,75.9 96.69,75.77 97.23,75.59 97.77,75.73 98.31,75.62 98.85,75.37 99.39,75.74 99.93,75.77 100.46,75.43 101,75.48 101.54,75.53 102.08,75.46 102.62,75.52 103.16,75.38 103.7,75.49 104.23,75.31 104.77,75.58 105.31,75.51 105.85,75.37 106.39,75.45 106.93,75.28 107.47,75.38 108,75.45 108,75.34 108.88,75.2 109.76,75.18 110.64,75.02 111.52,74.93 112.4,74.87 113.28,74.81 114.16,74.98 115.04,75.56 115.92,76.05 116.8,76.83 117.68,77.67 118.56,77.86 119.44,78.15 120.32,78.57 121.2,78.65 122.08,78.73 122.96,79.03 123.84,79.09 124.72,79.35 125.6,79.48 126.48,79.79 127.36,79.85 128.24,80.12 129.12,80.12 130,80.61 130.88,80.47 131.76,80.49 132.63,80.72 133.51,80.95 134.39,81 135.27,81.33 136.15,81.45 137.03,81.51 137.91,81.6 138.79,81.55 139.67,81.93 140.55,81.77 141.43,82.24 142.31,82.23 143.19,82.22 144.07,82.15 144.95,82.49 145.83,82.8 146.71,82.52 147.59,82.66 148.47,82.89 149.35,82.96 150.23,82.98 151.11,82.94 151.99,82.92 152.87,83.29 153.75,82.81 154.63,83.19 155.51,83.29 156.39,83.19 157.26,83.31 158.14,83.04 159.02,83.25 159.9,83.49 160.78,83.53 161.66,83.57 162.54,83.57 163.42,83.45 164.3,83.66 165.18,83.35 166.06,83.6 166.94,83.62 167.82,83.47 168.7,83.89" fill="none" stroke="#111" stroke-width="1.75" stroke-linejoin="round"/>
<polyline points="217,160.4 217.79,140.95 218.58,123.35 219.36,108.16 220.15,93.79 220.94,75.36 221.73,59.9 222.51,55.48 223.3,52.34 224.09,50.1 224.88,48.46 225.66,47.14 226.45,45.91 227.24,44.77 228.03,43.79 228.81,43.04 229.6,42.58 230.39,42.47 231.18,42.44 231.96,42.42 232.75,42.4 233.54,42.39 234.33,42.37 235.11,42.35 235.9,42.34 236.69,42.33 237.48,42.32 238.26,42.31 239.05,42.3 239.84,42.29 240.63,42.28 241.41,42.28 242.2,42.27 242.99,42.27 243.78,42.26 244.56,42.26 245.35,42.26 246.14,42.26 246.93,42.26 247.71,42.26 248.5,42.26 249.29,42.26 250.08,42.26 250.86,42.26 251.65,42.26 252.44,42.26 253.23,42.26 254.01,42.26 254.8,42.26 255.59,42.26 256.38,42.26 257.16,42.26 257.95,42.26 258.74,42.26 259.53,42.26 260.31,42.26 261.1,42.26 261.89,42.26 262.68,42.26 263.47,42.26 264.25,42.26 265.04,42.26 265.83,42.26 266.62,42.26 267.4,42.26 268.19,42.26 268.98,42.26 269.77,42.26 270.55,42.26 271.34,42.26 272.13,42.26 272.92,42.26 273.7,42.26 274.49,42.26 275.28,42.26 276.07,42.26 276.85,42.26 277.64,42.26 278.43,42.26 279.22,42.26 279.22,42.26 280.25,45.52 281.28,48.68 282.32,51.73 283.35,54.67 284.38,57.52 285.42,60.27 286.45,62.92 287.49,65.49 288.52,67.97 289.55,70.36 290.59,72.68 291.62,74.92 292.65,77.08 293.69,79.16 294.72,81.18 295.75,83.13 296.79,85.02 297.82,86.84 298.85,88.6 299.89,90.3 300.92,91.94 301.96,93.53 302.99,95.07 304.02,96.55 305.06,97.99 306.09,99.38 307.12,100.72 308.16,102.02 309.19,103.27 310.22,104.48 311.26,105.65 312.29,106.79 313.33,107.89 314.36,108.95 315.39,109.97 316.43,110.96 317.46,111.92 318.49,112.85 319.53,113.75 320.56,114.62 321.59,115.46 322.63,116.27 323.66,117.06 324.7,117.82 325.73,118.56 326.76,119.27 327.8,119.96 328.83,120.63 329.86,121.28 330.9,121.91 331.93,122.51 332.96,123.1 334,123.67 335.03,124.22 336.07,124.75 337.1,125.27 338.13,125.77 339.17,126.26 340.2,126.73" fill="none" stroke="#111" stroke-width="2.3" stroke-linejoin="round" stroke-dasharray="5.5 5.5"/>
<polyline points="217,160.57 217.57,145.74 218.14,132.27 218.71,119.76 219.28,108.59 219.85,98.31 220.42,86.9 221,72.55 221.57,60.37 222.14,55.22 222.71,52.84 223.28,50.57 223.85,48.41 224.42,47.1 224.99,46.29 225.56,45.32 226.13,44.32 226.7,43.6 227.27,42.49 227.84,41.83 228.42,41.21 228.99,40.6 229.56,40.29 230.13,39.95 230.7,39.99 231.27,40.61 231.84,40.08 232.41,40.46 232.98,40.51 233.55,40.08 234.12,40.34 234.69,40.25 235.27,39.97 235.84,40.3 236.41,40.34 236.98,40.09 237.55,39.9 238.12,40.03 238.69,40.43 239.26,40.25 239.83,40.15 240.4,39.73 240.97,39.93 241.54,39.94 242.11,39.86 242.69,40.16 243.26,40 243.83,39.99 244.4,40.28 244.97,40.09 245.54,39.97 246.11,40.29 246.68,39.92 247.25,39.93 247.82,39.88 248.39,40.23 248.96,40.06 249.53,39.8 250.11,39.93 250.68,40.24 251.25,40.04 251.82,39.8 252.39,40.1 252.96,40.01 253.53,39.58 254.1,40.09 254.67,40.1 255.24,40.28 255.81,40.21 256.38,39.79 256.96,40.11 257.53,40.32 258.1,40.27 258.67,40.08 259.24,39.93 259.81,40.23 260.38,39.94 260.95,40.18 261.52,40.01 262.09,39.98 262.66,39.97 263.23,40.17 263.8,40.12 264.38,39.99 264.95,40.34 265.52,40.05 266.09,39.99 266.66,39.88 267.23,40.09 267.8,40.12 268.37,40.06 268.94,40.23 269.51,40.13 270.08,40.01 270.65,40.03 271.22,40.29 271.8,40.15 272.37,40.5 272.94,39.93 273.51,40.19 274.08,40.04 274.65,40.31 275.22,40.11 275.79,40 276.36,39.9 276.93,40.36 277.5,39.93 278.07,40.12 278.65,40.24 279.22,40 279.22,40.15 280.1,42.98 280.98,45.81 281.87,48.29 282.75,50.92 283.64,53.48 284.52,56.07 285.4,58.35 286.29,60.48 287.17,62.54 288.05,64.97 288.94,66.79 289.82,69.12 290.71,71.31 291.59,72.91 292.47,75.09 293.36,76.65 294.24,78.28 295.12,80.27 296.01,81.89 296.89,83.01 297.78,85.02 298.66,86.54 299.54,87.93 300.43,89.54 301.31,90.94 302.2,92.2 303.08,94.07 303.96,94.61 304.85,96.34 305.73,97.55 306.61,98.41 307.5,99.66 308.38,101.02 309.27,101.81 310.15,103.12 311.03,104.06 311.92,105.2 312.8,106.03 313.69,106.73 314.57,107.69 315.45,108.54 316.34,109.28 317.22,110.3 318.1,111.23 318.99,111.95 319.87,112.34 320.76,113.4 321.64,114.07 322.52,114.86 323.41,115.47 324.29,116.1 325.17,116.84 326.06,117.5 326.94,118.23 327.83,118.84 328.71,119.18 329.59,119.67 330.48,120.19 331.36,120.89 332.25,121.58 333.13,121.8 334.01,122.3 334.9,123.19 335.78,123.21 336.66,123.7 337.55,123.93 338.43,124.91 339.32,125.36 340.2,125.36" fill="none" stroke="#111" stroke-width="1.75" stroke-linejoin="round"/>
<polyline points="217,160.4 217.79,147.02 218.58,134.29 219.36,122.26 220.15,110.71 220.94,99.69 221.73,89.93 222.51,81.15 223.3,72.74 224.09,65.64 224.88,60.85 225.66,57.87 226.45,55.36 227.24,53.35 228.03,51.89 228.81,51.02 229.6,50.42 230.39,49.91 231.18,49.48 231.96,49.12 232.75,48.82 233.54,48.58 234.33,48.38 235.11,48.23 235.9,48.09 236.69,47.96 237.48,47.83 238.26,47.71 239.05,47.6 239.84,47.5 240.63,47.4 241.41,47.3 242.2,47.21 242.99,47.13 243.78,47.05 244.56,46.97 245.35,46.9 246.14,46.83 246.93,46.77 247.71,46.71 248.5,46.65 249.29,46.59 250.08,46.53 250.86,46.48 251.65,46.43 252.44,46.37 253.23,46.32 254.01,46.27 254.8,46.22 255.59,46.17 256.38,46.12 257.16,46.07 257.95,46.02 258.74,45.96 259.53,45.91 260.31,45.86 261.1,45.8 261.89,45.75 262.68,45.7 263.47,45.65 264.25,45.6 265.04,45.55 265.83,45.51 266.62,45.46 267.4,45.41 268.19,45.37 268.98,45.33 269.77,45.28 270.55,45.24 271.34,45.2 272.13,45.16 272.92,45.13 273.7,45.09 274.49,45.06 275.28,45.02 276.07,44.99 276.85,44.96 277.64,44.93 278.43,44.9 279.22,44.88 279.22,44.88 280.25,48.15 281.28,51.3 282.32,54.36 283.35,57.3 284.38,60.15 285.42,62.9 286.45,65.56 287.49,68.13 288.52,70.6 289.55,73 290.59,75.32 291.62,77.55 292.65,79.71 293.69,81.8 294.72,83.82 295.75,85.77 296.79,87.65 297.82,89.47 298.85,91.23 299.89,92.93 300.92,94.57 301.96,96.16 302.99,97.69 304.02,99.17 305.06,100.61 306.09,101.99 307.12,103.33 308.16,104.63 309.19,105.88 310.22,107.09 311.26,108.26 312.29,109.39 313.33,110.48 314.36,111.54 315.39,112.56 316.43,113.55 317.46,114.5 318.49,115.43 319.53,116.32 320.56,117.19 321.59,118.02 322.63,118.83 323.66,119.61 324.7,120.37 325.73,121.1 326.76,121.81 327.8,122.5 328.83,123.16 329.86,123.81 330.9,124.43 331.93,125.03 332.96,125.61 334,126.18 335.03,126.72 336.07,127.25 337.1,127.77 338.13,128.26 339.17,128.74 340.2,129.21" fill="none" stroke="#111" stroke-width="2.3" stroke-linejoin="round" stroke-dasharray="5.5 5.5"/>
<polyline points="217,160.75 217.57,150.9 218.14,141.66 218.71,132.68 219.28,124.25 219.85,115.61 220.42,107.22 221,99.57 221.57,92.49 222.14,86.32 222.71,79.68 223.28,73.89 223.85,68.49 224.42,64.74 224.99,61.51 225.56,59.67 226.13,57.48 226.7,55.87 227.27,54.76 227.84,53.42 228.42,52.45 228.99,52.08 229.56,51.64 230.13,51.55 230.7,51.18 231.27,50.97 231.84,50.47 232.41,50.03 232.98,49.98 233.55,49.9 234.12,49.97 234.69,49.55 235.27,49.58 235.84,49.8 236.41,49.67 236.98,49.31 237.55,49.33 238.12,48.75 238.69,48.98 239.26,49.11 239.83,48.93 240.4,48.45 240.97,48.88 241.54,48.48 242.11,48.48 242.69,48.22 243.26,48.34 243.83,48.47 244.4,48.23 244.97,48.27 245.54,48.04 246.11,48.19 246.68,47.75 247.25,48.11 247.82,47.96 248.39,48.13 248.96,47.93 249.53,47.91 250.11,47.85 250.68,47.66 251.25,47.91 251.82,47.93 252.39,47.51 252.96,47.75 253.53,47.79 254.1,47.39 254.67,47.43 255.24,48.06 255.81,47.58 256.38,47.32 256.96,47.27 257.53,47.5 258.1,47.05 258.67,47.47 259.24,47.33 259.81,47.22 260.38,47.21 260.95,47.01 261.52,46.93 262.09,47.1 262.66,46.79 263.23,47.16 263.8,47.03 264.38,46.62 264.95,46.9 265.52,46.67 266.09,46.93 266.66,46.87 267.23,46.8 267.8,46.72 268.37,46.78 268.94,46.68 269.51,46.53 270.08,46.39 270.65,46.58 271.22,46.44 271.8,46.36 272.37,46.72 272.94,46.79 273.51,46.15 274.08,46.18 274.65,46.4 275.22,46.32 275.79,46.55 276.36,46.61 276.93,46.26 277.5,46.59 278.07,46.1 278.65,46.39 279.22,46.18 279.22,45.86 280.1,48.64 280.98,51.75 281.87,54.1 282.75,57.04 283.64,59.42 284.52,61.62 285.4,63.74 286.29,66.38 287.17,68.35 288.05,70.55 288.94,72.88 289.82,74.66 290.71,76.29 291.59,78.48 292.47,80.2 293.36,81.91 294.24,83.95 295.12,85.24 296.01,86.82 296.89,88.38 297.78,89.97 298.66,91.81 299.54,93.28 300.43,94.73 301.31,96.12 302.2,97.43 303.08,98.37 303.96,99.53 304.85,101.15 305.73,102.05 306.61,103.6 307.5,104.54 308.38,105.75 309.27,106.92 310.15,107.62 311.03,108.61 311.92,109.67 312.8,110.63 313.69,111.63 314.57,112.35 315.45,113.3 316.34,113.97 317.22,115.06 318.1,115.57 318.99,116.28 319.87,116.89 320.76,117.65 321.64,118.52 322.52,119.38 323.41,120.27 324.29,120.56 325.17,120.91 326.06,121.47 326.94,122.89 327.83,123.11 328.71,123.6 329.59,124.28 330.48,124.57 331.36,125.12 332.25,125.73 333.13,126.12 334.01,126.9 334.9,127.24 335.78,127.68 336.66,127.77 337.55,128.69 338.43,128.82 339.32,129.03 340.2,129.59" fill="none" stroke="#111" stroke-width="1.75" stroke-linejoin="round"/>
<polyline points="217,160.4 217.79,153.53 218.58,146.97 219.36,140.79 220.15,135.07 220.94,129.88 221.73,125.06 222.51,120.27 223.3,115.66 224.09,111.41 224.88,107.68 225.66,104.67 226.45,102.53 227.24,100.95 228.03,99.5 228.81,98.17 229.6,96.96 230.39,95.84 231.18,94.81 231.96,93.86 232.75,92.99 233.54,92.17 234.33,91.41 235.11,90.69 235.9,90.01 236.69,89.34 237.48,88.69 238.26,88.04 239.05,87.39 239.84,86.72 240.63,86.04 241.41,85.37 242.2,84.7 242.99,84.05 243.78,83.41 244.56,82.79 245.35,82.19 246.14,81.61 246.93,81.06 247.71,80.54 248.5,80.06 249.29,79.61 250.08,79.2 250.86,78.83 251.65,78.51 252.44,78.23 253.23,77.98 254.01,77.75 254.8,77.53 255.59,77.33 256.38,77.14 257.16,76.96 257.95,76.79 258.74,76.63 259.53,76.47 260.31,76.32 261.1,76.18 261.89,76.03 262.68,75.89 263.47,75.74 264.25,75.59 265.04,75.44 265.83,75.28 266.62,75.12 267.4,74.95 268.19,74.78 268.98,74.62 269.77,74.45 270.55,74.29 271.34,74.13 272.13,73.97 272.92,73.81 273.7,73.65 274.49,73.49 275.28,73.33 276.07,73.18 276.85,73.02 277.64,72.86 278.43,72.71 279.22,72.56 279.22,72.56 280.25,75.08 281.28,77.52 282.32,79.88 283.35,82.15 284.38,84.35 285.42,86.47 286.45,88.52 287.49,90.5 288.52,92.42 289.55,94.27 290.59,96.05 291.62,97.78 292.65,99.45 293.69,101.06 294.72,102.61 295.75,104.12 296.79,105.57 297.82,106.97 298.85,108.33 299.89,109.64 300.92,110.91 301.96,112.13 302.99,113.31 304.02,114.45 305.06,115.56 306.09,116.63 307.12,117.66 308.16,118.66 309.19,119.62 310.22,120.55 311.26,121.45 312.29,122.32 313.33,123.17 314.36,123.98 315.39,124.77 316.43,125.53 317.46,126.26 318.49,126.97 319.53,127.66 320.56,128.33 321.59,128.97 322.63,129.59 323.66,130.19 324.7,130.78 325.73,131.34 326.76,131.89 327.8,132.41 328.83,132.92 329.86,133.42 330.9,133.89 331.93,134.36 332.96,134.8 334,135.24 335.03,135.66 336.07,136.06 337.1,136.46 338.13,136.84 339.17,137.2 340.2,137.56" fill="none" stroke="#111" stroke-width="2.3" stroke-linejoin="round" stroke-dasharray="5.5 5.5"/>
<polyline points="217,160.24 217.57,155.2 218.14,149.83 218.71,144.76 219.28,139.75 219.85,135.54 220.42,131.18 221,127.54 221.57,123.82 222.14,119.82 222.71,116.35 223.28,112.66 223.85,109.46 224.42,106.11 224.99,103.33 225.56,101.63 226.13,99.26 226.7,98.19 227.27,96.99 227.84,95.98 228.42,94.76 228.99,94.12 229.56,93.11 230.13,92.24 230.7,91.21 231.27,90.31 231.84,89.62 232.41,89 232.98,88.54 233.55,88.14 234.12,87.13 234.69,86.61 235.27,86.03 235.84,85.29 236.41,85.09 236.98,84.58 237.55,84.5 238.12,83.44 238.69,83.05 239.26,82.68 239.83,81.94 240.4,81.7 240.97,81.08 241.54,80.07 242.11,79.8 242.69,79.25 243.26,78.79 243.83,78.32 244.4,77.93 244.97,77.05 245.54,77.06 246.11,76.45 246.68,76.21 247.25,75.83 247.82,75.84 248.39,75.37 248.96,74.33 249.53,74.01 250.11,74.08 250.68,73.71 251.25,73.33 251.82,73.41 252.39,72.66 252.96,73.01 253.53,72.76 254.1,72.99 254.67,71.98 255.24,72.11 255.81,71.65 256.38,72.02 256.96,71.61 257.53,71.53 258.1,71.38 258.67,70.89 259.24,70.73 259.81,70.79 260.38,71.02 260.95,70.65 261.52,70.45 262.09,70.5 262.66,70.38 263.23,70.29 263.8,70.45 264.38,70.11 264.95,69.72 265.52,70.11 266.09,69.77 266.66,69.5 267.23,69.8 267.8,69.43 268.37,69.61 268.94,69.27 269.51,69.3 270.08,69.07 270.65,68.87 271.22,68.7 271.8,68.56 272.37,68.87 272.94,67.96 273.51,68.21 274.08,68.24 274.65,68.03 275.22,67.73 275.79,67.86 276.36,67.63 276.93,67.52 277.5,67.2 278.39,63.59 278.91,66.95 279.22,66.98 280.1,72.75 280.98,76.53 281.87,79.4 282.75,81.41 283.64,83.58 284.52,85.66 285.4,87.58 286.29,89.08 287.17,91.35 288.05,93.1 288.94,94.99 289.82,96.38 290.71,98.3 291.59,100.04 292.47,101.68 293.36,102.84 294.24,104.26 295.12,106.14 296.01,107.35 296.89,108.42 297.78,109.65 298.66,111.37 299.54,112.42 300.43,113.37 301.31,114.79 302.2,115.9 303.08,117 303.96,118.21 304.85,118.98 305.73,119.92 306.61,121.23 307.5,121.88 308.38,122.59 309.27,123.66 310.15,124.38 311.03,125.51 311.92,125.95 312.8,127.16 313.69,127.4 314.57,128.61 315.45,129.39 316.34,130.12 317.22,130.71 318.1,131.39 318.99,132.08 319.87,132.64 320.76,133.05 321.64,133.6 322.52,134.41 323.41,134.67 324.29,135.65 325.17,136.18 326.06,136.71 326.94,136.87 327.83,137.78 328.71,138.22 329.59,138.16 330.48,138.52 331.36,139.02 332.25,140 333.13,140.11 334.01,140.35 334.9,140.88 335.78,141.59 336.66,141.71 337.55,142.33 338.43,142.59 339.32,142.26 340.2,142.88" fill="none" stroke="#111" stroke-width="1.75" stroke-linejoin="round"/>
<polyline points="217,160.4 217.79,157.13 218.58,153.99 219.36,151.04 220.15,148.31 220.94,145.85 221.73,143.64 222.51,141.55 223.3,139.58 224.09,137.73 224.88,136 225.66,134.37 226.45,132.85 227.24,131.44 228.03,130.1 228.81,128.8 229.6,127.54 230.39,126.31 231.18,125.12 231.96,123.97 232.75,122.85 233.54,121.77 234.33,120.72 235.11,119.71 235.9,118.73 236.69,117.78 237.48,116.87 238.26,115.99 239.05,115.14 239.84,114.33 240.63,113.55 241.41,112.8 242.2,112.08 242.99,111.37 243.78,110.67 244.56,110 245.35,109.33 246.14,108.69 246.93,108.06 247.71,107.44 248.5,106.85 249.29,106.27 250.08,105.71 250.86,105.16 251.65,104.64 252.44,104.14 253.23,103.65 254.01,103.19 254.8,102.74 255.59,102.32 256.38,101.92 257.16,101.53 257.95,101.17 258.74,100.82 259.53,100.47 260.31,100.12 261.1,99.78 261.89,99.44 262.68,99.11 263.47,98.78 264.25,98.46 265.04,98.14 265.83,97.84 266.62,97.54 267.4,97.25 268.19,96.97 268.98,96.7 269.77,96.44 270.55,96.19 271.34,95.95 272.13,95.72 272.92,95.51 273.7,95.31 274.49,95.12 275.28,94.95 276.07,94.79 276.85,94.65 277.64,94.53 278.43,94.42 279.22,94.32 279.22,94.32 280.25,96.25 281.28,98.11 282.32,99.91 283.35,101.65 284.38,103.33 285.42,104.95 286.45,106.51 287.49,108.03 288.52,109.49 289.55,110.9 290.59,112.26 291.62,113.58 292.65,114.85 293.69,116.08 294.72,117.27 295.75,118.41 296.79,119.52 297.82,120.59 298.85,121.63 299.89,122.63 300.92,123.59 301.96,124.53 302.99,125.43 304.02,126.3 305.06,127.14 306.09,127.96 307.12,128.74 308.16,129.5 309.19,130.24 310.22,130.95 311.26,131.63 312.29,132.3 313.33,132.94 314.36,133.56 315.39,134.16 316.43,134.74 317.46,135.3 318.49,135.84 319.53,136.36 320.56,136.87 321.59,137.36 322.63,137.83 323.66,138.29 324.7,138.73 325.73,139.16 326.76,139.57 327.8,139.97 328.83,140.36 329.86,140.74 330.9,141.1 331.93,141.45 332.96,141.79 334,142.12 335.03,142.44 336.07,142.74 337.1,143.04 338.13,143.33 339.17,143.61 340.2,143.88" fill="none" stroke="#111" stroke-width="2.3" stroke-linejoin="round" stroke-dasharray="5.5 5.5"/>
<polyline points="217,160.69 217.57,158.21 218.14,155.42 218.71,153.3 219.28,150.84 219.85,148.97 220.42,146.92 221,145.02 221.57,143.6 222.14,142.16 222.71,140.48 223.28,138.91 223.85,137.4 224.42,136.02 224.99,134.74 225.56,133.4 226.13,132.51 226.7,130.95 227.27,129.78 227.84,129.09 228.42,128.13 228.99,126.95 229.56,126.12 230.13,125.28 230.7,124.44 231.27,123.66 231.84,122.87 232.41,121.66 232.98,120.72 233.55,120.35 234.12,119.36 234.69,118.53 235.27,117.9 235.84,117.22 236.41,116.43 236.98,116.04 237.55,114.98 238.12,114.37 238.69,113.25 239.26,112.85 239.83,112.49 240.4,111.83 240.97,110.92 241.54,110.38 242.11,110.11 242.69,109.64 243.26,109.36 243.83,108.62 244.4,108.08 244.97,107.69 245.54,106.71 246.11,106.93 246.68,106.11 247.25,105.53 247.82,105.07 248.39,104.37 248.96,104.54 249.53,103.98 250.11,103.39 250.68,102.97 251.25,102.67 251.82,102.36 252.39,101.62 252.96,101.66 253.53,101.21 254.1,100.47 254.67,100.08 255.24,99.92 255.81,99.95 256.38,99.65 256.96,99.36 257.53,99.13 258.1,98.72 258.67,98.13 259.24,98.07 259.81,97.99 260.38,97.74 260.95,97.56 261.52,96.83 262.09,97.21 262.66,96.51 263.23,96.6 263.8,96.28 264.38,96.12 264.95,95.41 265.52,95.38 266.09,94.6 266.66,95.11 267.23,94.9 267.8,94.36 268.37,94.16 268.94,94.12 269.51,94.26 270.08,93.39 270.65,93.37 271.22,93.23 271.8,93.25 272.37,92.84 272.94,92.92 273.51,92.65 274.08,92.55 274.65,92.13 275.22,92.34 275.79,92.19 276.36,91.79 276.93,91.86 277.5,91.82 278.07,91.77 278.65,91.46 279.22,91.71 279.22,91.49 280.1,93.97 280.98,96.29 281.87,98.23 282.75,99.89 283.64,101.13 284.52,102.85 285.4,104.32 286.29,105.52 287.17,106.91 288.05,107.81 288.94,109.51 289.82,110.13 290.71,111.76 291.59,112.73 292.47,113.73 293.36,114.89 294.24,115.84 295.12,117.19 296.01,118.42 296.89,118.98 297.78,120.2 298.66,120.88 299.54,121.46 300.43,122.53 301.31,123.44 302.2,124.35 303.08,124.96 303.96,125.69 304.85,126.71 305.73,127.05 306.61,128.02 307.5,128.44 308.38,129.22 309.27,129.58 310.15,130.22 311.03,130.99 311.92,131.59 312.8,132.05 313.69,132.42 314.57,133.01 315.45,133.71 316.34,134.18 317.22,134.43 318.1,135.53 318.99,135.57 319.87,136.3 320.76,136.3 321.64,137.08 322.52,137.42 323.41,138.01 324.29,138.19 325.17,138.41 326.06,138.61 326.94,139.54 327.83,139.73 328.71,139.22 329.59,140.13 330.48,140.64 331.36,140.84 332.25,141.77 333.13,141.23 334.01,141.8 334.9,142.39 335.78,142.15 336.66,142.77 337.55,143.1 338.43,143.05 339.32,143.32 340.2,143.72" fill="none" stroke="#111" stroke-width="1.75" stroke-linejoin="round"/>
<polyline points="217,160.4 217.79,158.06 218.58,155.81 219.36,153.71 220.15,151.79 220.94,150.1 221.73,148.61 222.51,147.2 223.3,145.87 224.09,144.61 224.88,143.44 225.66,142.36 226.45,141.38 227.24,140.5 228.03,139.72 228.81,139.02 229.6,138.35 230.39,137.7 231.18,137.07 231.96,136.47 232.75,135.89 233.54,135.33 234.33,134.79 235.11,134.26 235.9,133.76 236.69,133.28 237.48,132.81 238.26,132.36 239.05,131.93 239.84,131.51 240.63,131.11 241.41,130.72 242.2,130.34 242.99,129.98 243.78,129.62 244.56,129.28 245.35,128.95 246.14,128.63 246.93,128.31 247.71,128.01 248.5,127.71 249.29,127.42 250.08,127.14 250.86,126.88 251.65,126.62 252.44,126.37 253.23,126.12 254.01,125.89 254.8,125.66 255.59,125.44 256.38,125.22 257.16,125.01 257.95,124.8 258.74,124.6 259.53,124.4 260.31,124.2 261.1,124.01 261.89,123.81 262.68,123.62 263.47,123.42 264.25,123.23 265.04,123.04 265.83,122.85 266.62,122.66 267.4,122.47 268.19,122.29 268.98,122.11 269.77,121.93 270.55,121.75 271.34,121.58 272.13,121.41 272.92,121.24 273.7,121.08 274.49,120.91 275.28,120.75 276.07,120.6 276.85,120.44 277.64,120.29 278.43,120.14 279.22,120 279.22,120 280.25,121.09 281.28,122.14 282.32,123.16 283.35,124.14 284.38,125.1 285.42,126.01 286.45,126.9 287.49,127.76 288.52,128.59 289.55,129.39 290.59,130.16 291.62,130.91 292.65,131.63 293.69,132.33 294.72,133 295.75,133.65 296.79,134.28 297.82,134.89 298.85,135.48 299.89,136.05 300.92,136.6 301.96,137.13 302.99,137.65 304.02,138.15 305.06,138.63 306.09,139.09 307.12,139.54 308.16,139.97 309.19,140.39 310.22,140.8 311.26,141.19 312.29,141.57 313.33,141.94 314.36,142.3 315.39,142.64 316.43,142.97 317.46,143.3 318.49,143.61 319.53,143.91 320.56,144.2 321.59,144.48 322.63,144.76 323.66,145.02 324.7,145.28 325.73,145.53 326.76,145.77 327.8,146 328.83,146.22 329.86,146.44 330.9,146.65 331.93,146.86 332.96,147.05 334,147.25 335.03,147.43 336.07,147.61 337.1,147.79 338.13,147.96 339.17,148.12 340.2,148.28" fill="none" stroke="#111" stroke-width="2.3" stroke-linejoin="round" stroke-dasharray="5.5 5.5"/>
<polyline points="217,160.41 217.57,158.87 218.14,157.14 218.71,155 219.28,153.31 219.85,151.98 220.42,150.61 221,149.51 221.57,148.33 222.14,147.39 222.71,145.81 223.28,145.25 223.85,144.09 224.42,143.25 224.99,142.65 225.56,141.17 226.13,140.86 226.7,140.22 227.27,139.39 227.84,138.99 228.42,138.26 228.99,137.93 229.56,137.12 230.13,136.72 230.7,136.51 231.27,135.57 231.84,135.27 232.41,135.07 232.98,134.35 233.55,133.91 234.12,133.22 234.69,133.35 235.27,132.62 235.84,132.42 236.41,131.91 236.98,131.72 237.55,131.33 238.12,130.87 238.69,130.87 239.26,130.72 239.83,130 240.4,129.77 240.97,129.36 241.54,128.96 242.11,128.84 242.69,128.28 243.26,128.25 243.83,127.95 244.4,127.55 244.97,127.34 245.54,127.22 246.11,126.94 246.68,126.87 247.25,126.6 247.82,126.23 248.39,125.86 248.96,125.89 249.53,125.42 250.11,124.99 250.68,124.75 251.25,124.97 251.82,124.57 252.39,124.46 252.96,124.24 253.53,124.05 254.1,123.93 254.67,123.7 255.24,123.65 255.81,123.57 256.38,123.31 256.96,123.1 257.53,122.8 258.1,122.81 258.67,122.58 259.24,122.29 259.81,122.6 260.38,122.32 260.95,122.01 261.52,121.96 262.09,122.02 262.66,121.48 263.23,121.54 263.8,121.58 264.38,120.86 264.95,121.34 265.52,120.94 266.09,120.93 266.66,120.63 267.23,120.4 267.8,120.53 268.37,120.25 268.94,120.12 269.51,120.15 270.08,119.59 270.65,119.65 271.22,119.61 271.8,119.55 272.37,119.36 272.94,119.14 273.51,119.13 274.08,118.67 274.65,119.29 275.22,119.09 275.79,118.6 276.36,118.79 276.93,118.33 277.5,118.33 278.07,117.97 278.65,117.89 279.22,117.61 279.22,117.68 280.1,119.29 280.98,120.59 281.87,121.46 282.75,122.46 283.64,123.51 284.52,124.45 285.4,125.23 286.29,125.66 287.17,126.97 288.05,127.19 288.94,128.07 289.82,128.45 290.71,129.22 291.59,130.05 292.47,130.52 293.36,131.57 294.24,131.66 295.12,132.19 296.01,133.2 296.89,133.21 297.78,133.92 298.66,134.37 299.54,135.18 300.43,135.26 301.31,135.73 302.2,136.3 303.08,136.93 303.96,137.02 304.85,137.34 305.73,137.91 306.61,138.18 307.5,138.88 308.38,139.1 309.27,139.42 310.15,139.82 311.03,139.63 311.92,140.43 312.8,140.95 313.69,140.99 314.57,141.67 315.45,141.68 316.34,141.89 317.22,142.41 318.1,142.65 318.99,143.04 319.87,143.09 320.76,143.5 321.64,143.27 322.52,143.72 323.41,144.12 324.29,144.58 325.17,144.12 326.06,144.47 326.94,144.84 327.83,145.1 328.71,145.3 329.59,145.62 330.48,145.34 331.36,145.85 332.25,146.35 333.13,146.37 334.01,146.91 334.9,146.44 335.78,146.58 336.66,146.54 337.55,146.62 338.43,147.34 339.32,147.24 340.2,147.27" fill="none" stroke="#111" stroke-width="1.75" stroke-linejoin="round"/>
<polyline points="217,160.4 217.79,157.73 218.58,155.28 219.36,153.24 220.15,151.79 220.94,150.74 221.73,149.84 222.51,149.06 223.3,148.4 224.09,147.82 224.88,147.31 225.66,146.85 226.45,146.42 227.24,146.03 228.03,145.66 228.81,145.33 229.6,145.03 230.39,144.77 231.18,144.55 231.96,144.36 232.75,144.19 233.54,144.03 234.33,143.88 235.11,143.74 235.9,143.61 236.69,143.49 237.48,143.37 238.26,143.26 239.05,143.16 239.84,143.06 240.63,142.96 241.41,142.86 242.2,142.77 242.99,142.68 243.78,142.58 244.56,142.49 245.35,142.39 246.14,142.29 246.93,142.18 247.71,142.07 248.5,141.96 249.29,141.84 250.08,141.73 250.86,141.62 251.65,141.5 252.44,141.39 253.23,141.27 254.01,141.16 254.8,141.05 255.59,140.94 256.38,140.82 257.16,140.71 257.95,140.6 258.74,140.48 259.53,140.37 260.31,140.26 261.1,140.15 261.89,140.03 262.68,139.92 263.47,139.81 264.25,139.69 265.04,139.58 265.83,139.47 266.62,139.35 267.4,139.24 268.19,139.13 268.98,139.01 269.77,138.9 270.55,138.79 271.34,138.67 272.13,138.56 272.92,138.45 273.7,138.33 274.49,138.22 275.28,138.11 276.07,137.99 276.85,137.88 277.64,137.77 278.43,137.65 279.22,137.54 279.22,137.54 280.25,138.13 281.28,138.7 282.32,139.24 283.35,139.77 284.38,140.29 285.42,140.78 286.45,141.26 287.49,141.72 288.52,142.17 289.55,142.6 290.59,143.02 291.62,143.42 292.65,143.81 293.69,144.19 294.72,144.55 295.75,144.9 296.79,145.24 297.82,145.57 298.85,145.89 299.89,146.2 300.92,146.5 301.96,146.78 302.99,147.06 304.02,147.33 305.06,147.59 306.09,147.84 307.12,148.09 308.16,148.32 309.19,148.55 310.22,148.77 311.26,148.98 312.29,149.19 313.33,149.39 314.36,149.58 315.39,149.77 316.43,149.95 317.46,150.13 318.49,150.3 319.53,150.46 320.56,150.62 321.59,150.77 322.63,150.92 323.66,151.07 324.7,151.21 325.73,151.34 326.76,151.48 327.8,151.6 328.83,151.73 329.86,151.85 330.9,151.96 331.93,152.07 332.96,152.18 334,152.29 335.03,152.39 336.07,152.49 337.1,152.58 338.13,152.68 339.17,152.77 340.2,152.86" fill="none" stroke="#111" stroke-width="2.3" stroke-linejoin="round" stroke-dasharray="5.5 5.5"/>
<polyline points="217,160.22 217.57,158.43 218.14,156.21 218.71,154.48 219.28,152.76 219.85,151.81 220.42,150.96 221,150.24 221.57,149.52 222.14,148.97 222.71,148.33 223.28,147.67 223.85,147.23 224.42,146.65 224.99,146.32 225.56,146.06 226.13,146.08 226.7,145.42 227.27,145.01 227.84,145.21 228.42,144.91 228.99,144.64 229.56,144.43 230.13,144.08 230.7,144.02 231.27,143.6 231.84,143.77 232.41,143.43 232.98,143.37 233.55,143.34 234.12,142.84 234.69,142.93 235.27,142.72 235.84,142.79 236.41,142.49 236.98,142.42 237.55,142.48 238.12,142.72 238.69,142.13 239.26,142.07 239.83,142.1 240.4,142.01 240.97,141.96 241.54,141.88 242.11,142.04 242.69,141.78 243.26,141.64 243.83,141.75 244.4,141.75 244.97,141.12 245.54,141.29 246.11,141.39 246.68,141.34 247.25,141.68 247.82,141.36 248.39,141.04 248.96,140.65 249.53,141.22 250.11,140.87 250.68,140.27 251.25,140.43 251.82,140.39 252.39,140.15 252.96,140.32 253.53,140.25 254.1,139.98 254.67,139.87 255.24,140.16 255.81,139.57 256.38,140.12 256.96,139.83 257.53,139 258.1,139.62 258.67,139.31 259.24,139.54 259.81,139.33 260.38,139.32 260.95,139.17 261.52,138.88 262.09,138.58 262.66,138.66 263.23,138.44 263.8,138.76 264.38,138.29 264.95,138.38 265.52,138.13 266.09,138.4 266.66,138.27 267.23,137.87 267.8,137.93 268.37,137.95 268.94,138.02 269.51,137.82 270.08,137.61 270.65,137.48 271.22,137.65 271.8,137.52 272.37,137.28 272.94,137.5 273.51,137.01 274.08,137.11 274.65,137.05 275.22,137.41 275.79,137.16 276.36,136.97 276.93,136.8 277.5,136.81 278.39,133.54 278.91,136.34 279.22,136.74 280.1,137.67 280.98,138.87 281.87,139.3 282.75,140.05 283.64,140.38 284.52,140.69 285.4,141.2 286.29,141.47 287.17,142.09 288.05,142.05 288.94,143.19 289.82,143.29 290.71,143.35 291.59,143.94 292.47,144.31 293.36,144.89 294.24,144.63 295.12,145.54 296.01,145.37 296.89,145.72 297.78,145.87 298.66,146.03 299.54,146.72 300.43,147 301.31,147.16 302.2,147.68 303.08,147.42 303.96,147.89 304.85,148 305.73,148.47 306.61,148.46 307.5,148.8 308.38,148.89 309.27,149.28 310.15,149.06 311.03,149.57 311.92,150.13 312.8,149.67 313.69,150.03 314.57,150.31 315.45,149.81 316.34,150.46 317.22,150.87 318.1,150.88 318.99,150.83 319.87,151.08 320.76,150.93 321.64,151.1 322.52,151.59 323.41,151.56 324.29,151.56 325.17,151.89 326.06,152.01 326.94,151.86 327.83,152.06 328.71,152.53 329.59,152.47 330.48,152.54 331.36,152.58 332.25,152.8 333.13,152.49 334.01,153.03 334.9,153.15 335.78,152.98 336.66,153.55 337.55,153.39 338.43,153.15 339.32,153.61 340.2,153.59" fill="none" stroke="#111" stroke-width="1.75" stroke-linejoin="round"/>
<polyline points="217,160.4 217.79,158.93 218.58,157.56 219.36,156.43 220.15,155.72 220.94,155.27 221.73,154.87 222.51,154.54 223.3,154.25 224.09,153.99 224.88,153.77 225.66,153.57 226.45,153.38 227.24,153.2 228.03,153.02 228.81,152.85 229.6,152.68 230.39,152.52 231.18,152.36 231.96,152.22 232.75,152.08 233.54,151.95 234.33,151.82 235.11,151.7 235.9,151.59 236.69,151.48 237.48,151.38 238.26,151.29 239.05,151.21 239.84,151.13 240.63,151.06 241.41,150.99 242.2,150.92 242.99,150.86 243.78,150.81 244.56,150.75 245.35,150.7 246.14,150.65 246.93,150.61 247.71,150.56 248.5,150.52 249.29,150.48 250.08,150.44 250.86,150.4 251.65,150.36 252.44,150.33 253.23,150.29 254.01,150.25 254.8,150.21 255.59,150.17 256.38,150.13 257.16,150.09 257.95,150.05 258.74,150 259.53,149.95 260.31,149.9 261.1,149.85 261.89,149.79 262.68,149.74 263.47,149.67 264.25,149.6 265.04,149.53 265.83,149.46 266.62,149.37 267.4,149.28 268.19,149.19 268.98,149.09 269.77,148.99 270.55,148.88 271.34,148.77 272.13,148.66 272.92,148.54 273.7,148.42 274.49,148.3 275.28,148.18 276.07,148.05 276.85,147.92 277.64,147.79 278.43,147.66 279.22,147.53 279.22,147.53 280.25,147.82 281.28,148.1 282.32,148.38 283.35,148.64 284.38,148.89 285.42,149.14 286.45,149.38 287.49,149.61 288.52,149.83 289.55,150.05 290.59,150.25 291.62,150.45 292.65,150.65 293.69,150.84 294.72,151.02 295.75,151.2 296.79,151.37 297.82,151.53 298.85,151.69 299.89,151.85 300.92,152 301.96,152.14 302.99,152.28 304.02,152.42 305.06,152.55 306.09,152.67 307.12,152.8 308.16,152.92 309.19,153.03 310.22,153.14 311.26,153.25 312.29,153.36 313.33,153.46 314.36,153.56 315.39,153.65 316.43,153.74 317.46,153.83 318.49,153.92 319.53,154.01 320.56,154.09 321.59,154.17 322.63,154.24 323.66,154.32 324.7,154.39 325.73,154.46 326.76,154.53 327.8,154.59 328.83,154.66 329.86,154.72 330.9,154.78 331.93,154.84 332.96,154.9 334,154.95 335.03,155.01 336.07,155.06 337.1,155.11 338.13,155.16 339.17,155.21 340.2,155.25" fill="none" stroke="#111" stroke-width="2.3" stroke-linejoin="round" stroke-dasharray="5.5 5.5"/>
<polyline points="217,160.2 217.57,159.16 218.14,158.11 218.71,157.03 219.28,156.33 219.85,155.49 220.42,155.18 221,154.3 221.57,154.38 222.14,154.27 222.71,153.96 223.28,153.71 223.85,153.79 224.42,153.5 224.99,152.87 225.56,153.28 226.13,152.97 226.7,152.51 227.27,152.27 227.84,152.63 228.42,152 228.99,152.22 229.56,151.7 230.13,151.8 230.7,151.83 231.27,151.51 231.84,151.42 232.41,151.57 232.98,150.89 233.55,151.28 234.12,150.89 234.69,151.11 235.27,151.28 235.84,151.05 236.41,150.77 236.98,150.54 237.55,150.25 238.12,150.5 238.69,150.51 239.26,150.63 239.83,150.34 240.4,150.21 240.97,150.65 241.54,149.9 242.11,149.89 242.69,149.62 243.26,150.19 243.83,149.96 244.4,149.93 244.97,150.15 245.54,150.02 246.11,150 246.68,149.67 247.25,149.65 247.82,149.44 248.39,149.75 248.96,149.91 249.53,149.52 250.11,149.5 250.68,149.42 251.25,149.27 251.82,149.6 252.39,149.3 252.96,149.62 253.53,149.37 254.1,149.23 254.67,149.36 255.24,149.26 255.81,149.55 256.38,149.37 256.96,149.18 257.53,149.41 258.1,149.31 258.67,148.63 259.24,149.02 259.81,149.19 260.38,149.19 260.95,148.68 261.52,149.46 262.09,148.94 262.66,148.7 263.23,148.89 263.8,148.62 264.38,148.88 264.95,148.62 265.52,148.55 266.09,148.49 266.66,148.4 267.23,148.35 267.8,148.07 268.37,148.27 268.94,148.25 269.51,148.11 270.08,148.04 270.65,148.19 271.22,148.18 271.8,147.98 272.37,147.57 272.94,147.67 273.51,147.52 274.08,146.78 274.65,147.03 275.22,147.19 275.79,147.18 276.36,146.68 276.93,147 277.5,146.5 278.39,144.17 278.91,146.41 279.22,146.26 280.1,147.79 280.98,147.96 281.87,148.05 282.75,148.39 283.64,149.12 284.52,148.85 285.4,149.11 286.29,149.42 287.17,149.76 288.05,149.87 288.94,150.12 289.82,150.01 290.71,150.28 291.59,150.34 292.47,150.59 293.36,151.14 294.24,151.03 295.12,150.79 296.01,151.58 296.89,151.46 297.78,151.81 298.66,151.97 299.54,151.89 300.43,151.89 301.31,152.05 302.2,152.24 303.08,152.26 303.96,152.89 304.85,152.53 305.73,152.72 306.61,152.95 307.5,153.02 308.38,153.29 309.27,152.99 310.15,153.47 311.03,153.71 311.92,153.51 312.8,153.72 313.69,153.71 314.57,153.48 315.45,153.89 316.34,153.92 317.22,153.58 318.1,154.38 318.99,154.11 319.87,154.02 320.76,154.03 321.64,153.95 322.52,154.59 323.41,154.41 324.29,154.61 325.17,154.75 326.06,154.86 326.94,155.07 327.83,154.77 328.71,154.75 329.59,155.16 330.48,154.86 331.36,155.17 332.25,155.31 333.13,155.68 334.01,155 334.9,155.12 335.78,155.37 336.66,155.43 337.55,155.66 338.43,155.34 339.32,155.5 340.2,155.42" fill="none" stroke="#111" stroke-width="1.75" stroke-linejoin="round"/>
<polyline points="377,139.45 377.82,140.38 378.64,142.75 379.46,145.44 380.28,146.16 381.1,149.83 381.92,150.53 382.74,153.94 383.55,148.96 384.37,150.55 385.19,149.3 386.01,152.25 386.83,150.67 387.65,149.54 388.47,145.97 389.29,148.74 390.11,149.33 390.93,153.88 391.75,149.73 392.57,152.3 393.39,150.74 394.21,149.88 395.02,148.09 395.84,149.04 396.66,150.06 397.48,150.68 398.3,147.09 399.12,152.78 399.94,150.42 400.76,147.03 401.58,151.01 402.4,148.41 403.22,148.25 404.04,145.49 404.86,147.64 405.68,154.7 406.5,150.51 407.31,149.77 408.13,148.42 408.95,149.54 409.77,145.74 410.59,147.74 411.41,153.55 412.23,152.17 413.05,155.81 413.87,146.18 414.69,150.91 415.51,150.97 416.33,154.64 417.15,151.77 417.97,149.58 418.78,151.72 419.6,151.71 420.42,152.3 421.24,145.69 422.06,152.15 422.88,154.47 423.7,152.1 424.52,151.69 425.34,151.06 426.16,151.45 426.98,153.7 427.8,151.37 428.62,149.88 429.44,154.45 430.26,145.83 431.07,146.54 431.89,155.52 432.71,151.82 433.53,148.31 434.35,147.46 435.17,146.32 435.99,155.61 436.81,153.72 437.63,152.2 438.45,149.48 439.27,153.63 440.09,149.76 440.91,149.71 441.73,149.02 442.6,157.47 443.43,152.39 444.26,152.5 445.09,157.94 445.92,155.37 446.75,155.42 447.58,158.25 448.41,154.36 449.24,154.77 450.07,158 450.9,155.85 451.73,154.1 452.56,156.4 453.39,157.62 454.23,152.42 455.06,158.19 455.89,155.27 456.72,153.54 457.55,154.26 458.38,160.02 459.21,156.71 460.04,156.27 460.87,156.44 461.7,154.58 462.53,154.76 463.36,155.65 464.19,155.35 465.02,153.7 465.85,153.17 466.68,160.02 467.51,151.1 468.34,157.12 469.17,154.17 470,159.48 470.83,157.02 471.66,158.65 472.49,153.48 473.32,153.92 474.15,155.86 474.98,156.24 475.82,155.01 476.65,157.93 477.48,157.2 478.31,157.55 479.14,154.06 479.97,155.8 480.8,158.67 481.63,155.1 482.46,154.7 483.29,152.8 484.12,157.08 484.95,154.97 485.78,151.27 486.61,156.58 487.44,156.66 488.27,154.74 489.1,156.96 489.93,155.86 490.76,156.97 491.59,157.59 492.42,153.93 493.25,156.69 494.08,158.08 494.91,156.5 495.74,156.18 496.57,155.21 497.41,153.81 498.24,151.98 499.07,158.57 499.9,156.42 500.73,159.89 501.56,155.4 502.39,154.74 503.22,157.34 504.05,157.92 504.88,158.09 505.71,159.21 506.54,154.53 507.37,151.73 508.2,158.44" fill="none" stroke="#111" stroke-width="1.1" stroke-linejoin="round"/>
<polyline points="377,143.9 377.82,142.36 378.64,143.85 379.46,142.59 380.28,145.65 381.1,144.9 381.92,146.35 382.74,146.31 383.55,151.3 384.37,148.95 385.19,148.92 386.01,152.87 386.83,155.31 387.65,155.01 388.47,151.61 389.29,149.69 390.11,155.15 390.93,152.45 391.75,146.69 392.57,155.2 393.39,149.44 394.21,149.72 395.02,148.61 395.84,154.39 396.66,149.77 397.48,154.19 398.3,147.23 399.12,152.85 399.94,149.67 400.76,152.69 401.58,150.29 402.4,154.57 403.22,149.92 404.04,149.11 404.86,150.68 405.68,146.52 406.5,149.71 407.31,148.64 408.13,149.36 408.95,145.85 409.77,152.33 410.59,151.34 411.41,151.2 412.23,149.06 413.05,149.97 413.87,148.5 414.69,149.88 415.51,151.95 416.33,150.79 417.15,149.5 417.97,156.47 418.78,147.05 419.6,152.06 420.42,151.51 421.24,149.93 422.06,151.23 422.88,154.31 423.7,151.17 424.52,147.02 425.34,147.88 426.16,147.39 426.98,151.97 427.8,151.1 428.62,147.84 429.44,146.73 430.26,150.45 431.07,153.01 431.89,155.48 432.71,146.86 433.53,154.42 434.35,149.39 435.17,148.2 435.99,142.1 436.81,149.98 437.63,150.76 438.45,149.27 439.27,149.13 440.09,146.98 440.91,148.66 441.73,152.41 442.6,157.79 443.43,152.11 444.26,155.45 445.09,156.23 445.92,154.17 446.75,157.58 447.58,156.65 448.41,157.25 449.24,151.39 450.07,155.09 450.9,154.42 451.73,153.33 452.56,156.24 453.39,156.17 454.23,159.49 455.06,154.75 455.89,155.25 456.72,156.75 457.55,153.13 458.38,159.84 459.21,154.89 460.04,158.92 460.87,158.4 461.7,156.31 462.53,152.84 463.36,158.5 464.19,158.08 465.02,158.56 465.85,151.31 466.68,154.66 467.51,154.92 468.34,151.19 469.17,155.27 470,160.02 470.83,156.97 471.66,158.53 472.49,151.28 473.32,159.02 474.15,155.15 474.98,157 475.82,156.83 476.65,155.79 477.48,156.14 478.31,157.38 479.14,158.62 479.97,157.31 480.8,158.19 481.63,157.89 482.46,155.58 483.29,156.19 484.12,154.77 484.95,156.38 485.78,151.51 486.61,157.5 487.44,158.1 488.27,153.54 489.1,157.44 489.93,155.57 490.76,153.64 491.59,156.07 492.42,156.65 493.25,153.67 494.08,155.1 494.91,157.05 495.74,158.56 496.57,156.71 497.41,159.6 498.24,157.83 499.07,158.33 499.9,155.2 500.73,154.14 501.56,157.33 502.39,156.86 503.22,158.35 504.05,158.98 504.88,156.84 505.71,154.6 506.54,154.81 507.37,154.54 508.2,156.49" fill="none" stroke="#111" stroke-width="1.1" stroke-linejoin="round"/>
<polyline points="377,146.27 377.82,144.89 378.64,146.81 379.46,146.24 380.28,147.05 381.1,147.56 381.92,147.93 382.74,149.59 383.55,146.36 384.37,148.3 385.19,148.64 386.01,150.76 386.83,151.31 387.65,153.36 388.47,148.88 389.29,151.23 390.11,153.55 390.93,152.4 391.75,153.52 392.57,146.22 393.39,151.05 394.21,150.13 395.02,153.58 395.84,153.12 396.66,147.66 397.48,151.03 398.3,149.83 399.12,145.6 399.94,144.94 400.76,148.6 401.58,149.13 402.4,149.79 403.22,151.15 404.04,145.1 404.86,153.58 405.68,150.64 406.5,155.44 407.31,153.72 408.13,149.35 408.95,149.21 409.77,149.52 410.59,151.25 411.41,152.25 412.23,151.81 413.05,151.4 413.87,147.54 414.69,146.58 415.51,149.24 416.33,151.81 417.15,152.85 417.97,149.6 418.78,151 419.6,155.18 420.42,146.81 421.24,150.42 422.06,151.24 422.88,152.68 423.7,152.69 424.52,148.05 425.34,152.87 426.16,150.15 426.98,148.74 427.8,145.57 428.62,148.82 429.44,150.49 430.26,151.55 431.07,148.16 431.89,147.77 432.71,151.52 433.53,148.86 434.35,150.76 435.17,154.65 435.99,153.04 436.81,148.28 437.63,146.62 438.45,148.62 439.27,150.93 440.09,139.2 440.91,148.99 441.73,149.53 442.6,154.23 443.43,158.19 444.26,158.12 445.09,153.48 445.92,154.75 446.75,159.37 447.58,160.02 448.41,153.81 449.24,150.8 450.07,153.95 450.9,156.35 451.73,155.22 452.56,160.02 453.39,158.07 454.23,153.53 455.06,153.88 455.89,160.02 456.72,153.15 457.55,154.61 458.38,153.71 459.21,156.27 460.04,155.81 460.87,158.25 461.7,155.09 462.53,153.8 463.36,157.94 464.19,154.99 465.02,157.02 465.85,153.47 466.68,153.61 467.51,160.02 468.34,154.8 469.17,153.53 470,157.08 470.83,156.31 471.66,156.16 472.49,158.4 473.32,156.08 474.15,152.31 474.98,154.74 475.82,152.38 476.65,153.58 477.48,153.11 478.31,155.54 479.14,154.07 479.97,151.27 480.8,152.49 481.63,155.09 482.46,157.39 483.29,157.9 484.12,155.27 484.95,154.83 485.78,159.96 486.61,155.32 487.44,155.03 488.27,155.13 489.1,157.06 489.93,150.62 490.76,153.85 491.59,158.91 492.42,157.43 493.25,154.02 494.08,154.67 494.91,155.54 495.74,155.9 496.57,156.32 497.41,156.85 498.24,158.15 499.07,154.55 499.9,160.02 500.73,157.5 501.56,153.07 502.39,157.64 503.22,158.57 504.05,151.62 504.88,153.54 505.71,156.23 506.54,157.21 507.37,156.42 508.2,156.69" fill="none" stroke="#111" stroke-width="1.1" stroke-linejoin="round"/>
<polyline points="377,147.57 377.82,150.23 378.64,149.66 379.46,150.72 380.28,151.48 381.1,151.51 381.92,152.07 382.74,153.19 383.55,157 384.37,146.62 385.19,149.24 386.01,151.79 386.83,151.92 387.65,149.22 388.47,146.98 389.29,152.19 390.11,149.49 390.93,152.2 391.75,149.72 392.57,153.55 393.39,155.35 394.21,150.36 395.02,150.75 395.84,148.7 396.66,152.33 397.48,147 398.3,150.34 399.12,146.56 399.94,151.48 400.76,146.65 401.58,150.75 402.4,150.22 403.22,148.07 404.04,155.2 404.86,153.37 405.68,145.8 406.5,154.52 407.31,151.89 408.13,149.17 408.95,146.77 409.77,151.9 410.59,150.24 411.41,153.53 412.23,151.58 413.05,147.9 413.87,149.72 414.69,150.65 415.51,149.46 416.33,150.21 417.15,150.12 417.97,151.48 418.78,153.11 419.6,148.79 420.42,153.56 421.24,147.89 422.06,145 422.88,146.59 423.7,144.5 424.52,153.25 425.34,149.9 426.16,152.69 426.98,152.45 427.8,154.99 428.62,153.68 429.44,148.28 430.26,148.69 431.07,147.37 431.89,147.56 432.71,148.45 433.53,152.58 434.35,150.78 435.17,148.56 435.99,147.22 436.81,151.44 437.63,151.74 438.45,151.59 439.27,146.3 440.09,148.97 440.91,151.26 441.73,152.43 442.6,149.03 443.43,155.6 444.26,154.27 445.09,157.62 445.92,159.52 446.75,153.26 447.58,151.43 448.41,158.04 449.24,155.97 450.07,153.32 450.9,155.59 451.73,160.02 452.56,153.54 453.39,156.11 454.23,154.17 455.06,157.95 455.89,153.82 456.72,153.47 457.55,157.4 458.38,154.69 459.21,157.21 460.04,156.92 460.87,157.82 461.7,156.76 462.53,157.3 463.36,153.17 464.19,156.29 465.02,158.3 465.85,152.73 466.68,154.58 467.51,153.58 468.34,155.93 469.17,154.23 470,156 470.83,157.91 471.66,155.54 472.49,155.45 473.32,155.47 474.15,153.89 474.98,159.63 475.82,155.11 476.65,157.54 477.48,156.39 478.31,154.76 479.14,155.61 479.97,157.25 480.8,154.06 481.63,155.87 482.46,153.66 483.29,152.99 484.12,156.52 484.95,158.17 485.78,155.54 486.61,153.91 487.44,155.01 488.27,158.31 489.1,159.48 489.93,157.8 490.76,157.82 491.59,154.33 492.42,155.57 493.25,153.76 494.08,155.89 494.91,151.98 495.74,155.67 496.57,154.47 497.41,156.6 498.24,154.7 499.07,153.28 499.9,153.97 500.73,152.85 501.56,157.02 502.39,154.67 503.22,151.89 504.05,155.11 504.88,156.04 505.71,156.18 506.54,156.83 507.37,155.35 508.2,152.59" fill="none" stroke="#111" stroke-width="1.1" stroke-linejoin="round"/>
<polyline points="377,150.79 377.82,152.54 378.64,151.21 379.46,150.1 380.28,149.75 381.1,150.2 381.92,152.06 382.74,151.47 383.55,149.8 384.37,151.33 385.19,149.97 386.01,146.52 386.83,152.14 387.65,148.9 388.47,150.43 389.29,148.42 390.11,152.01 390.93,149.23 391.75,152.79 392.57,154.95 393.39,153.66 394.21,152.74 395.02,153.19 395.84,151.16 396.66,147.52 397.48,153.26 398.3,149.21 399.12,149.98 399.94,152.17 400.76,152.76 401.58,149.29 402.4,149.16 403.22,151.27 404.04,150.77 404.86,150.41 405.68,153.74 406.5,150.12 407.31,149.62 408.13,145.92 408.95,153.64 409.77,152.61 410.59,150.18 411.41,151.89 412.23,151.43 413.05,150.38 413.87,151.15 414.69,150.49 415.51,149.28 416.33,154.52 417.15,148.97 417.97,156.11 418.78,146.07 419.6,148.04 420.42,151.94 421.24,147.81 422.06,150.76 422.88,149.29 423.7,148.47 424.52,149.5 425.34,150.37 426.16,148.8 426.98,150.86 427.8,151.33 428.62,152.77 429.44,154.95 430.26,146.35 431.07,148.39 431.89,153.91 432.71,149.36 433.53,149.83 434.35,155.93 435.17,152.47 435.99,150.62 436.81,146.01 437.63,147.58 438.45,147.17 439.27,149.55 440.09,147.82 440.91,153.31 441.73,148.78 442.6,155.95 443.43,156.88 444.26,153.07 445.09,157.58 445.92,158.02 446.75,159.27 447.58,155.31 448.41,154.79 449.24,157.04 450.07,157.38 450.9,156.14 451.73,152.81 452.56,158.66 453.39,155.82 454.23,155.27 455.06,154.91 455.89,152.99 456.72,153.92 457.55,155.13 458.38,152.54 459.21,153.23 460.04,155.09 460.87,155.2 461.7,158.29 462.53,155.43 463.36,157.42 464.19,158.19 465.02,156.32 465.85,159.47 466.68,157.66 467.51,156.85 468.34,155.01 469.17,156.44 470,154.88 470.83,152.31 471.66,153.97 472.49,158.27 473.32,159.63 474.15,157.76 474.98,157.71 475.82,160.02 476.65,159.54 477.48,159.54 478.31,157.13 479.14,152.73 479.97,152.14 480.8,158.08 481.63,156.87 482.46,158.87 483.29,159.44 484.12,156.08 484.95,155.83 485.78,157.33 486.61,154.59 487.44,156.7 488.27,153.62 489.1,157.08 489.93,154.14 490.76,156.44 491.59,155.74 492.42,154.66 493.25,158.92 494.08,157.63 494.91,156.17 495.74,156.63 496.57,155.46 497.41,157.78 498.24,158.91 499.07,156.26 499.9,155.4 500.73,157.78 501.56,153.39 502.39,154.52 503.22,154.17 504.05,154.31 504.88,157.86 505.71,151.38 506.54,157.52 507.37,155.13 508.2,154.36" fill="none" stroke="#111" stroke-width="1.1" stroke-linejoin="round"/>
<polyline points="377,155.15 377.82,155.13 378.64,153.05 379.46,151.52 380.28,152.06 381.1,149.29 381.92,149.17 382.74,148.65 383.55,149.26 384.37,150.13 385.19,151.72 386.01,150.67 386.83,154.65 387.65,150.01 388.47,149.44 389.29,151.55 390.11,148.91 390.93,149.42 391.75,152.04 392.57,148.09 393.39,151.53 394.21,144.11 395.02,152.77 395.84,152.21 396.66,151.78 397.48,149.58 398.3,147.25 399.12,149.94 399.94,151.18 400.76,145.39 401.58,147.61 402.4,150.89 403.22,150.47 404.04,154.05 404.86,150.1 405.68,145.87 406.5,153.14 407.31,153.78 408.13,149.88 408.95,156.25 409.77,146.73 410.59,154.05 411.41,152.07 412.23,150.66 413.05,147.25 413.87,149.29 414.69,155.07 415.51,154.56 416.33,149.81 417.15,155.61 417.97,151.09 418.78,152.45 419.6,142 420.42,147.36 421.24,156.73 422.06,149.33 422.88,148.81 423.7,152.36 424.52,151.95 425.34,153.47 426.16,151.32 426.98,149.44 427.8,147.09 428.62,146.84 429.44,151.19 430.26,152.57 431.07,147.97 431.89,157.44 432.71,154.02 433.53,148.88 434.35,144.88 435.17,152.47 435.99,150.24 436.81,153.31 437.63,150.68 438.45,150.69 439.27,152.4 440.09,149.5 440.91,150.91 441.73,149.21 442.6,156.65 443.43,155.79 444.26,156.77 445.09,157.81 445.92,153.86 446.75,153.89 447.58,156.83 448.41,156.25 449.24,156.3 450.07,154.34 450.9,152.66 451.73,157.27 452.56,155.17 453.39,155.88 454.23,154.62 455.06,152.7 455.89,157.73 456.72,160.02 457.55,156.19 458.38,159.3 459.21,152.19 460.04,157.33 460.87,156.43 461.7,155.28 462.53,155.36 463.36,156.72 464.19,155.81 465.02,153.75 465.85,156.47 466.68,151.78 467.51,155.02 468.34,160.02 469.17,153.85 470,159.6 470.83,155.05 471.66,150.88 472.49,153.44 473.32,158.24 474.15,157.55 474.98,155.73 475.82,152.62 476.65,157.36 477.48,153.36 478.31,155.1 479.14,155.99 479.97,156.13 480.8,152.11 481.63,159.04 482.46,158.23 483.29,153.81 484.12,153.61 484.95,158.59 485.78,157.77 486.61,158.27 487.44,154.57 488.27,157.2 489.1,152.68 489.93,154.1 490.76,155.19 491.59,155.33 492.42,154.59 493.25,153.94 494.08,155.75 494.91,155.22 495.74,154.06 496.57,155.93 497.41,153.6 498.24,156.08 499.07,157.45 499.9,155.37 500.73,152.18 501.56,152.53 502.39,159.26 503.22,155.12 504.05,156.87 504.88,156.5 505.71,156.55 506.54,156.3 507.37,156.94 508.2,156.41" fill="none" stroke="#111" stroke-width="1.1" stroke-linejoin="round"/>
<polyline points="377,156.94 377.82,154.79 378.64,155.44 379.46,153.71 380.28,153.66 381.1,153.48 381.92,152.35 382.74,150.6 383.55,150.24 384.37,148.6 385.19,150.33 386.01,147.74 386.83,150.55 387.65,149.77 388.47,148.49 389.29,154.08 390.11,149.42 390.93,146.59 391.75,150.12 392.57,151.01 393.39,145.6 394.21,150.13 395.02,147.29 395.84,156.39 396.66,150.14 397.48,151.67 398.3,149.43 399.12,147.42 399.94,150.77 400.76,150.96 401.58,157.51 402.4,148.41 403.22,147.05 404.04,150.02 404.86,151.6 405.68,149.47 406.5,147.79 407.31,148.77 408.13,145.15 408.95,151.8 409.77,153.82 410.59,149.16 411.41,147.19 412.23,151.54 413.05,150.38 413.87,152.01 414.69,153.56 415.51,152.25 416.33,155.61 417.15,149.71 417.97,149.24 418.78,148.17 419.6,152.49 420.42,152.02 421.24,154.64 422.06,154.08 422.88,148.17 423.7,143.3 424.52,153.08 425.34,151.41 426.16,148.07 426.98,152.17 427.8,148.95 428.62,151.18 429.44,151.17 430.26,148.13 431.07,151.06 431.89,153.61 432.71,148.34 433.53,150.35 434.35,151.81 435.17,152.44 435.99,148.95 436.81,152.23 437.63,150.11 438.45,147.89 439.27,150.69 440.09,147.67 440.91,153.89 441.73,148.88 442.6,157.37 443.43,154.14 444.26,157.52 445.09,155.74 445.92,153.88 446.75,153.13 447.58,153.79 448.41,152.59 449.24,158.29 450.07,156.89 450.9,155.14 451.73,153.41 452.56,154.73 453.39,157.49 454.23,156.24 455.06,159.41 455.89,154.07 456.72,159.7 457.55,155.36 458.38,153.49 459.21,153.86 460.04,159.32 460.87,155.36 461.7,156.58 462.53,156.47 463.36,152.26 464.19,155.2 465.02,158.93 465.85,158.17 466.68,154.28 467.51,155.34 468.34,158.29 469.17,159.47 470,157.03 470.83,156.79 471.66,154.06 472.49,157.17 473.32,154.39 474.15,153.22 474.98,159.33 475.82,157.12 476.65,152.49 477.48,156.83 478.31,155.89 479.14,153.77 479.97,157.52 480.8,156.77 481.63,159.46 482.46,154.68 483.29,156.94 484.12,156.69 484.95,160.02 485.78,153.8 486.61,154.4 487.44,157.63 488.27,153.25 489.1,160.02 489.93,156.07 490.76,159.59 491.59,150.01 492.42,160.02 493.25,158.59 494.08,157.59 494.91,154.2 495.74,154.15 496.57,155.12 497.41,156.5 498.24,151.31 499.07,157.53 499.9,155.29 500.73,152.17 501.56,158.66 502.39,157.74 503.22,153.58 504.05,154.99 504.88,158.84 505.71,155.91 506.54,151.79 507.37,156.54 508.2,154.23" fill="none" stroke="#111" stroke-width="1.1" stroke-linejoin="round"/>
<polyline points="377,158.75 377.82,158.18 378.64,157.07 379.46,155.86 380.28,153.66 381.1,151.94 381.92,151.08 382.74,150.03 383.55,149.47 384.37,151.48 385.19,151.88 386.01,147.29 386.83,153.39 387.65,151.73 388.47,151.57 389.29,151.91 390.11,153.67 390.93,152.56 391.75,148.59 392.57,151.53 393.39,152.49 394.21,146.4 395.02,154 395.84,148 396.66,149.73 397.48,154.05 398.3,151.64 399.12,151.61 399.94,147.35 400.76,148.3 401.58,151.33 402.4,153.6 403.22,154.91 404.04,151.06 404.86,154.18 405.68,151.08 406.5,151.15 407.31,149.68 408.13,148.1 408.95,150.36 409.77,149.44 410.59,151.07 411.41,148 412.23,148.57 413.05,146.6 413.87,147.14 414.69,152.48 415.51,154.33 416.33,149 417.15,147.73 417.97,152.33 418.78,146.83 419.6,150.38 420.42,150.85 421.24,149.73 422.06,154.19 422.88,154.8 423.7,151.52 424.52,153.63 425.34,150.71 426.16,150.68 426.98,157.17 427.8,152.72 428.62,149.36 429.44,156.58 430.26,151.56 431.07,154.13 431.89,155.68 432.71,147.9 433.53,147.99 434.35,151.79 435.17,151.99 435.99,147.22 436.81,147.7 437.63,150.76 438.45,148.54 439.27,150.47 440.09,151.53 440.91,149.18 441.73,151.82 442.6,158.02 443.43,154.79 444.26,158.08 445.09,158.57 445.92,156.56 446.75,154.36 447.58,154.62 448.41,154.9 449.24,153.12 450.07,154.23 450.9,156.88 451.73,154.39 452.56,156.68 453.39,155.23 454.23,154.8 455.06,156.23 455.89,159.29 456.72,156.37 457.55,156.72 458.38,156.28 459.21,156.95 460.04,158.47 460.87,159.5 461.7,154.58 462.53,154.31 463.36,155.2 464.19,156.1 465.02,151.77 465.85,154.56 466.68,155.95 467.51,154.2 468.34,156.14 469.17,154.46 470,155.37 470.83,154.81 471.66,155.83 472.49,156.94 473.32,154.86 474.15,153.53 474.98,157.92 475.82,157.09 476.65,158.3 477.48,154.05 478.31,156.41 479.14,154.02 479.97,157.64 480.8,154.15 481.63,157.17 482.46,156.92 483.29,154.77 484.12,156.76 484.95,157.21 485.78,154 486.61,156.06 487.44,153.25 488.27,150.47 489.1,157.12 489.93,156.64 490.76,159.19 491.59,158.46 492.42,154.62 493.25,155.27 494.08,155.31 494.91,154.92 495.74,157.72 496.57,159.53 497.41,153.58 498.24,155.37 499.07,153.47 499.9,155.97 500.73,154.27 501.56,157.03 502.39,155.91 503.22,156.25 504.05,155.1 504.88,152.89 505.71,154.51 506.54,160.02 507.37,156.12 508.2,155.88" fill="none" stroke="#111" stroke-width="1.1" stroke-linejoin="round"/>
<text x="405.5" y="132.3" font-size="10.5" textLength="45.5" lengthAdjust="spacingAndGlyphs">1.9 – 125</text>
<text x="52.5" y="46.5" font-size="10.4" textLength="17.1" lengthAdjust="spacingAndGlyphs">125</text>
<text x="70.9" y="58.5" font-size="10.4" textLength="19.6" lengthAdjust="spacingAndGlyphs">62.5</text>
<text x="93.7" y="66.7" font-size="10.4" textLength="19.2" lengthAdjust="spacingAndGlyphs">31.2</text>
<text x="118.1" y="70.8" font-size="10.4" textLength="18.2" lengthAdjust="spacingAndGlyphs">15.6</text>
<text x="143.5" y="73.8" font-size="10.4" textLength="14.6" lengthAdjust="spacingAndGlyphs">7.8</text>
<text x="140.6" y="129" font-size="10.4" textLength="15.9" lengthAdjust="spacingAndGlyphs">3.9</text>
<text x="140.1" y="143.9" font-size="10.4" textLength="14.2" lengthAdjust="spacingAndGlyphs">1.9</text>
<line x1="62.8" y1="48.5" x2="62.8" y2="77" stroke="#111" stroke-width="1.15"/>
<polygon points="62.8,82.2 59.7,76 65.9,76" fill="#111"/>
<line x1="81.6" y1="61.3" x2="72.98" y2="79.98" stroke="#111" stroke-width="1.15"/>
<polygon points="70.8,84.7 70.58,77.77 76.21,80.37" fill="#111"/>
<line x1="94.6" y1="69.5" x2="78.73" y2="87.59" stroke="#111" stroke-width="1.15"/>
<polygon points="75.3,91.5 77.06,84.79 81.72,88.88" fill="#111"/>
<line x1="117.5" y1="71.3" x2="91.48" y2="93.16" stroke="#111" stroke-width="1.15"/>
<polygon points="87.5,96.5 90.25,90.14 94.24,94.89" fill="#111"/>
<line x1="142.8" y1="75.9" x2="103.91" y2="100.24" stroke="#111" stroke-width="1.15"/>
<polygon points="99.5,103 103.11,97.08 106.4,102.34" fill="#111"/>
<text x="241.4" y="34.7" font-size="10.4" textLength="18.2" lengthAdjust="spacingAndGlyphs">500</text>
<text x="287.6" y="31.8" font-size="10.4" textLength="18.4" lengthAdjust="spacingAndGlyphs">250</text>
<text x="290.7" y="44.2" font-size="10.4" textLength="20.8" lengthAdjust="spacingAndGlyphs">62.5</text>
<text x="294.9" y="58.7" font-size="10.4" textLength="20.6" lengthAdjust="spacingAndGlyphs">31.2</text>
<text x="300.3" y="73.9" font-size="10.4" textLength="20.1" lengthAdjust="spacingAndGlyphs">15.6</text>
<text x="315.5" y="86.8" font-size="10.4" textLength="15.5" lengthAdjust="spacingAndGlyphs">7.8</text>
<text x="321.2" y="102" font-size="10.4" textLength="14.4" lengthAdjust="spacingAndGlyphs">3.9</text>
<line x1="286.4" y1="32.2" x2="272.79" y2="40.17" stroke="#111" stroke-width="1.15"/>
<polygon points="268.3,42.8 272.08,36.99 275.22,42.34" fill="#111"/>
<line x1="290" y1="47" x2="271.1" y2="64.65" stroke="#111" stroke-width="1.15"/>
<polygon points="267.3,68.2 269.72,61.7 273.95,66.23" fill="#111"/>
<line x1="299.1" y1="62.5" x2="276.36" y2="86.71" stroke="#111" stroke-width="1.15"/>
<polygon points="272.8,90.5 274.79,83.86 279.3,88.1" fill="#111"/>
<line x1="304.9" y1="76.9" x2="275.86" y2="112.95" stroke="#111" stroke-width="1.15"/>
<polygon points="272.6,117 274.08,110.23 278.9,114.12" fill="#111"/>
<line x1="314" y1="88.3" x2="281.09" y2="128.57" stroke="#111" stroke-width="1.15"/>
<polygon points="277.8,132.6 279.32,125.84 284.12,129.76" fill="#111"/>
<line x1="321.9" y1="103.5" x2="287.62" y2="138.77" stroke="#111" stroke-width="1.15"/>
<polygon points="284,142.5 286.1,135.89 290.54,140.21" fill="#111"/>
<polyline points="48.3,358.8 48.41,355.53 48.52,352.46 48.63,349.55 48.74,346.8 48.86,344.2 48.97,341.73 49.08,339.39 49.19,337.16 49.3,335.04 49.41,333.01 49.52,331.08 49.63,329.24 49.74,327.48 49.85,325.79 49.97,324.17 50.08,322.62 50.19,321.13 50.3,319.7 50.41,318.33 50.52,317 50.63,315.73 50.74,314.5 50.85,313.32 50.96,312.18 51.08,311.08 51.19,310.01 51.3,308.98 51.41,307.99 51.52,307.03 51.63,306.09 51.74,305.19 51.85,304.32 51.96,303.47 52.07,302.65 52.19,301.85 52.3,301.07 52.41,300.32 52.52,299.59 52.63,298.88 52.63,298.88 53.95,291.74 55.26,286.38 56.58,282.2 57.89,278.86 59.21,276.11 60.52,273.83 61.84,271.89 63.15,270.23 64.47,268.79 65.78,267.53 67.1,266.41 68.42,265.42 69.73,264.54 71.05,263.74 72.36,263.02 73.68,262.36 74.99,261.76 76.31,261.21 77.62,260.71 78.94,260.24 80.25,259.81 81.57,259.41 82.89,259.03 84.2,258.68 85.52,258.36 86.83,258.05 88.15,257.76 89.46,257.49 90.78,257.24 92.09,257 93.41,256.77 94.72,256.55 96.04,256.35 97.36,256.15 98.67,255.97 99.99,255.79 101.3,255.62 102.62,255.46 103.93,255.31 105.25,255.16 106.56,255.02 107.88,254.88 109.19,254.75 110.51,254.63 111.82,254.51 113.14,254.4 114.46,254.29 115.77,254.18 117.09,254.08 118.4,253.98 119.72,253.88 121.03,253.79 122.35,253.7 123.66,253.62 124.98,253.53 126.29,253.45 127.61,253.37 128.93,253.3 130.24,253.23 131.56,253.16 132.87,253.09 134.19,253.02 135.5,252.95 136.82,252.89 138.13,252.83 139.45,252.77 140.76,252.71 142.08,252.66 143.4,252.6 144.71,252.55 146.03,252.5 147.34,252.45 148.66,252.4 149.97,252.35 151.29,252.3 152.6,252.26 153.92,252.21 155.23,252.17 156.55,252.12" fill="none" stroke="#111" stroke-width="1.2" stroke-linejoin="round"/>
<line x1="49.99" y1="325.42" x2="49.99" y2="329.15" stroke="#111" stroke-width="1.0"/>
<line x1="47.49" y1="325.42" x2="52.49" y2="325.42" stroke="#111" stroke-width="1.0"/>
<line x1="47.49" y1="329.15" x2="52.49" y2="329.15" stroke="#111" stroke-width="1.0"/>
<polygon points="49.99,324.29 52.99,327.29 49.99,330.29 46.99,327.29" fill="#111"/>
<line x1="51.68" y1="298.83" x2="51.68" y2="301.06" stroke="#111" stroke-width="1.0"/>
<line x1="49.18" y1="298.83" x2="54.18" y2="298.83" stroke="#111" stroke-width="1.0"/>
<line x1="49.18" y1="301.06" x2="54.18" y2="301.06" stroke="#111" stroke-width="1.0"/>
<polygon points="51.68,296.94 54.68,299.94 51.68,302.94 48.68,299.94" fill="#111"/>
<line x1="55.05" y1="274.76" x2="55.05" y2="283.7" stroke="#111" stroke-width="1.0"/>
<line x1="52.55" y1="274.76" x2="57.55" y2="274.76" stroke="#111" stroke-width="1.0"/>
<line x1="52.55" y1="283.7" x2="57.55" y2="283.7" stroke="#111" stroke-width="1.0"/>
<polygon points="55.05,276.23 58.05,279.23 55.05,282.23 52.05,279.23" fill="#111"/>
<line x1="61.81" y1="267.91" x2="61.81" y2="275.36" stroke="#111" stroke-width="1.0"/>
<line x1="59.31" y1="267.91" x2="64.31" y2="267.91" stroke="#111" stroke-width="1.0"/>
<line x1="59.31" y1="275.36" x2="64.31" y2="275.36" stroke="#111" stroke-width="1.0"/>
<polygon points="61.81,268.63 64.81,271.63 61.81,274.63 58.81,271.63" fill="#111"/>
<line x1="75.32" y1="263.44" x2="75.32" y2="267.17" stroke="#111" stroke-width="1.0"/>
<line x1="72.82" y1="263.44" x2="77.82" y2="263.44" stroke="#111" stroke-width="1.0"/>
<line x1="72.82" y1="267.17" x2="77.82" y2="267.17" stroke="#111" stroke-width="1.0"/>
<polygon points="75.32,262.3 78.32,265.3 75.32,268.3 72.32,265.3" fill="#111"/>
<line x1="102.42" y1="256.36" x2="102.42" y2="260.09" stroke="#111" stroke-width="1.0"/>
<line x1="99.92" y1="256.36" x2="104.92" y2="256.36" stroke="#111" stroke-width="1.0"/>
<line x1="99.92" y1="260.09" x2="104.92" y2="260.09" stroke="#111" stroke-width="1.0"/>
<polygon points="102.42,255.23 105.42,258.23 102.42,261.23 99.42,258.23" fill="#111"/>
<line x1="156.55" y1="246.31" x2="156.55" y2="252.27" stroke="#111" stroke-width="1.0"/>
<line x1="154.05" y1="246.31" x2="159.05" y2="246.31" stroke="#111" stroke-width="1.0"/>
<line x1="154.05" y1="252.27" x2="159.05" y2="252.27" stroke="#111" stroke-width="1.0"/>
<polygon points="156.55,246.29 159.55,249.29 156.55,252.29 153.55,249.29" fill="#111"/>
<polyline points="216.8,360.3 216.98,356.62 217.16,353.12 217.34,349.79 217.51,346.61 217.69,343.59 217.87,340.71 218.05,337.95 218.23,335.31 218.41,332.79 218.59,330.37 218.76,328.05 218.94,325.82 219.12,323.68 219.3,321.62 219.48,319.64 219.66,317.73 219.83,315.89 220.01,314.12 220.19,312.41 220.37,310.76 220.55,309.16 220.73,307.62 220.91,306.13 221.08,304.69 221.26,303.29 221.44,301.94 221.62,300.62 221.8,299.35 221.98,298.12 222.16,296.92 222.33,295.76 222.51,294.63 222.69,293.53 222.87,292.46 223.05,291.42 223.23,290.41 223.4,289.43 223.58,288.47 223.76,287.54 223.94,286.63 224.12,285.75 224.3,284.88 224.48,284.04 224.65,283.22 224.83,282.42 225.01,281.63 225.19,280.87 225.37,280.12 225.55,279.39 225.55,279.39 226.82,274.64 228.09,270.56 229.37,267.01 230.64,263.91 231.91,261.16 233.19,258.72 234.46,256.53 235.73,254.55 237.01,252.77 238.28,251.14 239.55,249.66 240.83,248.29 242.1,247.04 243.37,245.88 244.65,244.81 245.92,243.81 247.19,242.88 248.47,242.01 249.74,241.2 251.01,240.44 252.28,239.73 253.56,239.05 254.83,238.42 256.1,237.82 257.38,237.25 258.65,236.71 259.92,236.2 261.2,235.71 262.47,235.25 263.74,234.81 265.02,234.39 266.29,233.99 267.56,233.61 268.84,233.24 270.11,232.89 271.38,232.56 272.66,232.23 273.93,231.92 275.2,231.63 276.48,231.34 277.75,231.07 279.02,230.8 280.3,230.54 281.57,230.3 282.84,230.06 284.12,229.83 285.39,229.61 286.66,229.39 287.94,229.19 289.21,228.99 290.48,228.79 291.76,228.6 293.03,228.42 294.3,228.24 295.58,228.07 296.85,227.9 298.12,227.74 299.4,227.58 300.67,227.43 301.94,227.28 303.21,227.14 304.49,227 305.76,226.86 307.03,226.73 308.31,226.6 309.58,226.47 310.85,226.35 312.13,226.23 313.4,226.11 314.67,225.99 315.95,225.88 317.22,225.77 318.49,225.67 319.77,225.56 321.04,225.46 322.31,225.36 323.59,225.26 324.86,225.17 326.13,225.08" fill="none" stroke="#111" stroke-width="1.2" stroke-linejoin="round"/>
<polygon points="217.02,342.14 220.42,345.44 217.02,348.74 213.62,345.44" fill="#111"/>
<polygon points="218.51,332.67 221.91,335.97 218.51,339.27 215.11,335.97" fill="#111"/>
<polygon points="220.21,313.11 223.61,316.41 220.21,319.71 216.81,316.41" fill="#111"/>
<polygon points="223.63,285.38 227.03,288.68 223.63,291.98 220.23,288.68" fill="#111"/>
<polygon points="230.47,255.48 233.87,258.78 230.47,262.08 227.07,258.78" fill="#111"/>
<polygon points="271.47,229.18 274.87,232.48 271.47,235.78 268.07,232.48" fill="#111"/>
<polygon points="326.13,223.36 329.53,226.66 326.13,229.96 322.73,226.66" fill="#111"/>
</g></svg>
</body></html>
